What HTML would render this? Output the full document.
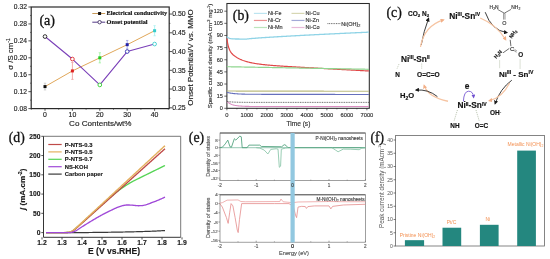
<!DOCTYPE html>
<html><head><meta charset="utf-8"><style>
html,body{margin:0;padding:0;background:#fff;}
body{width:550px;height:259px;overflow:hidden;font-family:"Liberation Sans",sans-serif;}
svg{display:block;filter:blur(0.3px);}
</style></head><body>
<svg width="550" height="259" viewBox="0 0 550 259">
<rect x="31.20" y="7.00" width="138.00" height="101.60" fill="none" stroke="#2a2a2a" stroke-width="1.2" />
<line x1="28.40" y1="108.60" x2="31.20" y2="108.60" stroke="#2a2a2a" stroke-width="0.8" />
<text x="26.90" y="111.00" font-size="6.7" font-family="'Liberation Sans', sans-serif" text-anchor="end" fill="#222" font-weight="normal"  stroke="#222" stroke-width="0.15">0.08</text>
<line x1="30.00" y1="100.13" x2="31.20" y2="100.13" stroke="#2a2a2a" stroke-width="0.6" />
<line x1="28.40" y1="91.67" x2="31.20" y2="91.67" stroke="#2a2a2a" stroke-width="0.8" />
<text x="26.90" y="94.07" font-size="6.7" font-family="'Liberation Sans', sans-serif" text-anchor="end" fill="#222" font-weight="normal"  stroke="#222" stroke-width="0.15">0.12</text>
<line x1="30.00" y1="83.20" x2="31.20" y2="83.20" stroke="#2a2a2a" stroke-width="0.6" />
<line x1="28.40" y1="74.73" x2="31.20" y2="74.73" stroke="#2a2a2a" stroke-width="0.8" />
<text x="26.90" y="77.13" font-size="6.7" font-family="'Liberation Sans', sans-serif" text-anchor="end" fill="#222" font-weight="normal"  stroke="#222" stroke-width="0.15">0.16</text>
<line x1="30.00" y1="66.27" x2="31.20" y2="66.27" stroke="#2a2a2a" stroke-width="0.6" />
<line x1="28.40" y1="57.80" x2="31.20" y2="57.80" stroke="#2a2a2a" stroke-width="0.8" />
<text x="26.90" y="60.20" font-size="6.7" font-family="'Liberation Sans', sans-serif" text-anchor="end" fill="#222" font-weight="normal"  stroke="#222" stroke-width="0.15">0.20</text>
<line x1="30.00" y1="49.33" x2="31.20" y2="49.33" stroke="#2a2a2a" stroke-width="0.6" />
<line x1="28.40" y1="40.87" x2="31.20" y2="40.87" stroke="#2a2a2a" stroke-width="0.8" />
<text x="26.90" y="43.27" font-size="6.7" font-family="'Liberation Sans', sans-serif" text-anchor="end" fill="#222" font-weight="normal"  stroke="#222" stroke-width="0.15">0.24</text>
<line x1="30.00" y1="32.40" x2="31.20" y2="32.40" stroke="#2a2a2a" stroke-width="0.6" />
<line x1="28.40" y1="23.93" x2="31.20" y2="23.93" stroke="#2a2a2a" stroke-width="0.8" />
<text x="26.90" y="26.33" font-size="6.7" font-family="'Liberation Sans', sans-serif" text-anchor="end" fill="#222" font-weight="normal"  stroke="#222" stroke-width="0.15">0.28</text>
<line x1="30.00" y1="15.47" x2="31.20" y2="15.47" stroke="#2a2a2a" stroke-width="0.6" />
<line x1="28.40" y1="7.00" x2="31.20" y2="7.00" stroke="#2a2a2a" stroke-width="0.8" />
<text x="26.90" y="9.40" font-size="6.7" font-family="'Liberation Sans', sans-serif" text-anchor="end" fill="#222" font-weight="normal"  stroke="#222" stroke-width="0.15">0.32</text>
<line x1="169.20" y1="107.80" x2="172.00" y2="107.80" stroke="#2a2a2a" stroke-width="0.8" />
<text x="172.20" y="110.20" font-size="6.9" font-family="'Liberation Sans', sans-serif" text-anchor="start" fill="#222" font-weight="normal"  stroke="#222" stroke-width="0.15">0.25</text>
<line x1="169.20" y1="98.42" x2="170.40" y2="98.42" stroke="#2a2a2a" stroke-width="0.6" />
<line x1="169.20" y1="89.05" x2="172.00" y2="89.05" stroke="#2a2a2a" stroke-width="0.8" />
<text x="172.20" y="91.45" font-size="6.9" font-family="'Liberation Sans', sans-serif" text-anchor="start" fill="#222" font-weight="normal"  stroke="#222" stroke-width="0.15">0.30</text>
<line x1="169.20" y1="79.67" x2="170.40" y2="79.67" stroke="#2a2a2a" stroke-width="0.6" />
<line x1="169.20" y1="70.30" x2="172.00" y2="70.30" stroke="#2a2a2a" stroke-width="0.8" />
<text x="172.20" y="72.70" font-size="6.9" font-family="'Liberation Sans', sans-serif" text-anchor="start" fill="#222" font-weight="normal"  stroke="#222" stroke-width="0.15">0.35</text>
<line x1="169.20" y1="60.92" x2="170.40" y2="60.92" stroke="#2a2a2a" stroke-width="0.6" />
<line x1="169.20" y1="51.55" x2="172.00" y2="51.55" stroke="#2a2a2a" stroke-width="0.8" />
<text x="172.20" y="53.95" font-size="6.9" font-family="'Liberation Sans', sans-serif" text-anchor="start" fill="#222" font-weight="normal"  stroke="#222" stroke-width="0.15">0.40</text>
<line x1="169.20" y1="42.17" x2="170.40" y2="42.17" stroke="#2a2a2a" stroke-width="0.6" />
<line x1="169.20" y1="32.80" x2="172.00" y2="32.80" stroke="#2a2a2a" stroke-width="0.8" />
<text x="172.20" y="35.20" font-size="6.9" font-family="'Liberation Sans', sans-serif" text-anchor="start" fill="#222" font-weight="normal"  stroke="#222" stroke-width="0.15">0.45</text>
<line x1="169.20" y1="23.42" x2="170.40" y2="23.42" stroke="#2a2a2a" stroke-width="0.6" />
<line x1="169.20" y1="14.05" x2="172.00" y2="14.05" stroke="#2a2a2a" stroke-width="0.8" />
<text x="172.20" y="16.45" font-size="6.9" font-family="'Liberation Sans', sans-serif" text-anchor="start" fill="#222" font-weight="normal"  stroke="#222" stroke-width="0.15">0.50</text>
<line x1="45.00" y1="108.60" x2="45.00" y2="110.80" stroke="#2a2a2a" stroke-width="0.8" />
<text x="45.00" y="117.00" font-size="6.9" font-family="'Liberation Sans', sans-serif" text-anchor="middle" fill="#222" font-weight="normal"  stroke="#222" stroke-width="0.15">0</text>
<line x1="72.40" y1="108.60" x2="72.40" y2="110.80" stroke="#2a2a2a" stroke-width="0.8" />
<text x="72.40" y="117.00" font-size="6.9" font-family="'Liberation Sans', sans-serif" text-anchor="middle" fill="#222" font-weight="normal"  stroke="#222" stroke-width="0.15">10</text>
<line x1="99.80" y1="108.60" x2="99.80" y2="110.80" stroke="#2a2a2a" stroke-width="0.8" />
<text x="99.80" y="117.00" font-size="6.9" font-family="'Liberation Sans', sans-serif" text-anchor="middle" fill="#222" font-weight="normal"  stroke="#222" stroke-width="0.15">20</text>
<line x1="127.20" y1="108.60" x2="127.20" y2="110.80" stroke="#2a2a2a" stroke-width="0.8" />
<text x="127.20" y="117.00" font-size="6.9" font-family="'Liberation Sans', sans-serif" text-anchor="middle" fill="#222" font-weight="normal"  stroke="#222" stroke-width="0.15">30</text>
<line x1="154.60" y1="108.60" x2="154.60" y2="110.80" stroke="#2a2a2a" stroke-width="0.8" />
<text x="154.60" y="117.00" font-size="6.9" font-family="'Liberation Sans', sans-serif" text-anchor="middle" fill="#222" font-weight="normal"  stroke="#222" stroke-width="0.15">40</text>
<line x1="31.30" y1="108.60" x2="31.30" y2="109.80" stroke="#2a2a2a" stroke-width="0.6" />
<line x1="58.70" y1="108.60" x2="58.70" y2="109.80" stroke="#2a2a2a" stroke-width="0.6" />
<line x1="86.10" y1="108.60" x2="86.10" y2="109.80" stroke="#2a2a2a" stroke-width="0.6" />
<line x1="113.50" y1="108.60" x2="113.50" y2="109.80" stroke="#2a2a2a" stroke-width="0.6" />
<line x1="140.90" y1="108.60" x2="140.90" y2="109.80" stroke="#2a2a2a" stroke-width="0.6" />
<line x1="168.30" y1="108.60" x2="168.30" y2="109.80" stroke="#2a2a2a" stroke-width="0.6" />
<text x="100.30" y="125.70" font-size="8.1" font-family="'Liberation Sans', sans-serif" text-anchor="middle" fill="#222" font-weight="normal"  stroke="#222" stroke-width="0.15">Co Contents/wt%</text>
<text x="13.20" y="54.00" font-size="7.8" font-family="'Liberation Sans', sans-serif" text-anchor="middle" fill="#222" font-weight="normal" transform="rotate(-90 13.2 54)"  stroke="#222" stroke-width="0.15">σ /S cm<tspan font-size="5" dy="-3">-1</tspan></text>
<text x="193.40" y="57.50" font-size="8.0" font-family="'Liberation Sans', sans-serif" text-anchor="middle" fill="#222" font-weight="normal" transform="rotate(-90 193.4 57.5)"  stroke="#222" stroke-width="0.15">Onset Potential/V vs. MMO</text>
<text x="39.40" y="24.50" font-size="14.1" font-family="'Liberation Serif', serif" text-anchor="start" fill="#111" font-weight="normal" stroke="#111" stroke-width="0.3">(a)</text>
<polyline points="45.00,86.59 72.40,70.92 99.80,57.80 127.20,44.68 154.60,30.71" fill="none" stroke="#e0a75a" stroke-width="1.0" stroke-linejoin="round" />
<polyline points="45.00,36.55 72.40,59.05 99.80,84.92 127.20,51.55 154.60,44.05" fill="none" stroke="#7a3fb8" stroke-width="1.1" stroke-linejoin="round" />
<line x1="45.00" y1="83.20" x2="45.00" y2="89.97" stroke="#bbb" stroke-width="0.7" />
<line x1="43.80" y1="83.20" x2="46.20" y2="83.20" stroke="#bbb" stroke-width="0.6" />
<line x1="43.80" y1="89.97" x2="46.20" y2="89.97" stroke="#bbb" stroke-width="0.6" />
<rect x="43.50" y="85.09" width="3.00" height="3.00" fill="#111" stroke="none" stroke-width="0.8" />
<line x1="72.40" y1="62.46" x2="72.40" y2="79.39" stroke="#e88" stroke-width="0.7" />
<line x1="71.20" y1="62.46" x2="73.60" y2="62.46" stroke="#e88" stroke-width="0.6" />
<line x1="71.20" y1="79.39" x2="73.60" y2="79.39" stroke="#e88" stroke-width="0.6" />
<rect x="70.90" y="69.42" width="3.00" height="3.00" fill="#d22" stroke="none" stroke-width="0.8" />
<line x1="99.80" y1="52.72" x2="99.80" y2="62.88" stroke="#8e8" stroke-width="0.7" />
<line x1="98.60" y1="52.72" x2="101.00" y2="52.72" stroke="#8e8" stroke-width="0.6" />
<line x1="98.60" y1="62.88" x2="101.00" y2="62.88" stroke="#8e8" stroke-width="0.6" />
<rect x="98.30" y="56.30" width="3.00" height="3.00" fill="#2c2" stroke="none" stroke-width="0.8" />
<line x1="127.20" y1="40.44" x2="127.20" y2="48.91" stroke="#88d" stroke-width="0.7" />
<line x1="126.00" y1="40.44" x2="128.40" y2="40.44" stroke="#88d" stroke-width="0.6" />
<line x1="126.00" y1="48.91" x2="128.40" y2="48.91" stroke="#88d" stroke-width="0.6" />
<rect x="125.70" y="43.18" width="3.00" height="3.00" fill="#22a" stroke="none" stroke-width="0.8" />
<line x1="154.60" y1="25.63" x2="154.60" y2="35.79" stroke="#9ee" stroke-width="0.7" />
<line x1="153.40" y1="25.63" x2="155.80" y2="25.63" stroke="#9ee" stroke-width="0.6" />
<line x1="153.40" y1="35.79" x2="155.80" y2="35.79" stroke="#9ee" stroke-width="0.6" />
<rect x="153.10" y="29.21" width="3.00" height="3.00" fill="#3cc" stroke="none" stroke-width="0.8" />
<circle cx="45.00" cy="36.55" r="1.85" fill="#fff" stroke="#111" stroke-width="0.85"/>
<circle cx="72.40" cy="59.05" r="1.85" fill="#fff" stroke="#d22" stroke-width="0.85"/>
<circle cx="99.80" cy="84.92" r="1.85" fill="#fff" stroke="#2c2" stroke-width="0.85"/>
<circle cx="127.20" cy="51.55" r="1.85" fill="#fff" stroke="#22a" stroke-width="0.85"/>
<circle cx="154.60" cy="44.05" r="1.85" fill="#fff" stroke="#3cc" stroke-width="0.85"/>
<line x1="92.30" y1="13.50" x2="105.20" y2="13.50" stroke="#c89a5a" stroke-width="1.0" />
<rect x="98.10" y="12.00" width="3.00" height="3.00" fill="#111" stroke="none" stroke-width="0.8" />
<text x="106.50" y="15.30" font-size="6.3" font-family="'Liberation Serif', serif" text-anchor="start" fill="#111" font-weight="bold"  stroke="#111" stroke-width="0.15">Electrical conductivity</text>
<line x1="92.30" y1="22.20" x2="105.20" y2="22.20" stroke="#553a88" stroke-width="1.0" />
<circle cx="99.60" cy="22.20" r="1.7" fill="#fff" stroke="#443366" stroke-width="0.9"/>
<text x="106.50" y="23.80" font-size="6.3" font-family="'Liberation Serif', serif" text-anchor="start" fill="#111" font-weight="bold"  stroke="#111" stroke-width="0.15">Onset potential</text>
<rect x="226.90" y="3.50" width="142.40" height="104.80" fill="none" stroke="#2a2a2a" stroke-width="1.05" />
<line x1="224.30" y1="108.30" x2="226.90" y2="108.30" stroke="#2a2a2a" stroke-width="0.7" />
<text x="222.90" y="110.30" font-size="5.5" font-family="'Liberation Sans', sans-serif" text-anchor="end" fill="#333" font-weight="normal"  stroke="#333" stroke-width="0.15">0</text>
<line x1="224.30" y1="96.16" x2="226.90" y2="96.16" stroke="#2a2a2a" stroke-width="0.7" />
<text x="222.90" y="98.16" font-size="5.5" font-family="'Liberation Sans', sans-serif" text-anchor="end" fill="#333" font-weight="normal"  stroke="#333" stroke-width="0.15">15</text>
<line x1="224.30" y1="84.03" x2="226.90" y2="84.03" stroke="#2a2a2a" stroke-width="0.7" />
<text x="222.90" y="86.03" font-size="5.5" font-family="'Liberation Sans', sans-serif" text-anchor="end" fill="#333" font-weight="normal"  stroke="#333" stroke-width="0.15">30</text>
<line x1="224.30" y1="71.89" x2="226.90" y2="71.89" stroke="#2a2a2a" stroke-width="0.7" />
<text x="222.90" y="73.89" font-size="5.5" font-family="'Liberation Sans', sans-serif" text-anchor="end" fill="#333" font-weight="normal"  stroke="#333" stroke-width="0.15">45</text>
<line x1="224.30" y1="59.75" x2="226.90" y2="59.75" stroke="#2a2a2a" stroke-width="0.7" />
<text x="222.90" y="61.75" font-size="5.5" font-family="'Liberation Sans', sans-serif" text-anchor="end" fill="#333" font-weight="normal"  stroke="#333" stroke-width="0.15">60</text>
<line x1="224.30" y1="47.61" x2="226.90" y2="47.61" stroke="#2a2a2a" stroke-width="0.7" />
<text x="222.90" y="49.61" font-size="5.5" font-family="'Liberation Sans', sans-serif" text-anchor="end" fill="#333" font-weight="normal"  stroke="#333" stroke-width="0.15">75</text>
<line x1="224.30" y1="35.47" x2="226.90" y2="35.47" stroke="#2a2a2a" stroke-width="0.7" />
<text x="222.90" y="37.47" font-size="5.5" font-family="'Liberation Sans', sans-serif" text-anchor="end" fill="#333" font-weight="normal"  stroke="#333" stroke-width="0.15">90</text>
<line x1="224.30" y1="23.34" x2="226.90" y2="23.34" stroke="#2a2a2a" stroke-width="0.7" />
<text x="222.90" y="25.34" font-size="5.5" font-family="'Liberation Sans', sans-serif" text-anchor="end" fill="#333" font-weight="normal"  stroke="#333" stroke-width="0.15">105</text>
<line x1="224.30" y1="11.20" x2="226.90" y2="11.20" stroke="#2a2a2a" stroke-width="0.7" />
<text x="222.90" y="13.20" font-size="5.5" font-family="'Liberation Sans', sans-serif" text-anchor="end" fill="#333" font-weight="normal"  stroke="#333" stroke-width="0.15">120</text>
<line x1="226.90" y1="108.30" x2="226.90" y2="110.30" stroke="#2a2a2a" stroke-width="0.7" />
<text x="226.90" y="116.60" font-size="5.8" font-family="'Liberation Sans', sans-serif" text-anchor="middle" fill="#333" font-weight="normal"  stroke="#333" stroke-width="0.15">0</text>
<line x1="246.90" y1="108.30" x2="246.90" y2="110.30" stroke="#2a2a2a" stroke-width="0.7" />
<text x="246.90" y="116.60" font-size="5.8" font-family="'Liberation Sans', sans-serif" text-anchor="middle" fill="#333" font-weight="normal"  stroke="#333" stroke-width="0.15">1000</text>
<line x1="266.90" y1="108.30" x2="266.90" y2="110.30" stroke="#2a2a2a" stroke-width="0.7" />
<text x="266.90" y="116.60" font-size="5.8" font-family="'Liberation Sans', sans-serif" text-anchor="middle" fill="#333" font-weight="normal"  stroke="#333" stroke-width="0.15">2000</text>
<line x1="286.90" y1="108.30" x2="286.90" y2="110.30" stroke="#2a2a2a" stroke-width="0.7" />
<text x="286.90" y="116.60" font-size="5.8" font-family="'Liberation Sans', sans-serif" text-anchor="middle" fill="#333" font-weight="normal"  stroke="#333" stroke-width="0.15">3000</text>
<line x1="306.90" y1="108.30" x2="306.90" y2="110.30" stroke="#2a2a2a" stroke-width="0.7" />
<text x="306.90" y="116.60" font-size="5.8" font-family="'Liberation Sans', sans-serif" text-anchor="middle" fill="#333" font-weight="normal"  stroke="#333" stroke-width="0.15">4000</text>
<line x1="326.90" y1="108.30" x2="326.90" y2="110.30" stroke="#2a2a2a" stroke-width="0.7" />
<text x="326.90" y="116.60" font-size="5.8" font-family="'Liberation Sans', sans-serif" text-anchor="middle" fill="#333" font-weight="normal"  stroke="#333" stroke-width="0.15">5000</text>
<line x1="346.90" y1="108.30" x2="346.90" y2="110.30" stroke="#2a2a2a" stroke-width="0.7" />
<text x="346.90" y="116.60" font-size="5.8" font-family="'Liberation Sans', sans-serif" text-anchor="middle" fill="#333" font-weight="normal"  stroke="#333" stroke-width="0.15">6000</text>
<line x1="366.90" y1="108.30" x2="366.90" y2="110.30" stroke="#2a2a2a" stroke-width="0.7" />
<text x="366.90" y="116.60" font-size="5.8" font-family="'Liberation Sans', sans-serif" text-anchor="middle" fill="#333" font-weight="normal"  stroke="#333" stroke-width="0.15">7000</text>
<line x1="236.90" y1="108.30" x2="236.90" y2="109.40" stroke="#2a2a2a" stroke-width="0.6" />
<line x1="256.90" y1="108.30" x2="256.90" y2="109.40" stroke="#2a2a2a" stroke-width="0.6" />
<line x1="276.90" y1="108.30" x2="276.90" y2="109.40" stroke="#2a2a2a" stroke-width="0.6" />
<line x1="296.90" y1="108.30" x2="296.90" y2="109.40" stroke="#2a2a2a" stroke-width="0.6" />
<line x1="316.90" y1="108.30" x2="316.90" y2="109.40" stroke="#2a2a2a" stroke-width="0.6" />
<line x1="336.90" y1="108.30" x2="336.90" y2="109.40" stroke="#2a2a2a" stroke-width="0.6" />
<line x1="356.90" y1="108.30" x2="356.90" y2="109.40" stroke="#2a2a2a" stroke-width="0.6" />
<text x="298.40" y="126.40" font-size="6.6" font-family="'Liberation Sans', sans-serif" text-anchor="middle" fill="#333" font-weight="normal"  stroke="#333" stroke-width="0.15">Time (s)</text>
<text x="212.00" y="56.00" font-size="6.1" font-family="'Liberation Sans', sans-serif" text-anchor="middle" fill="#333" font-weight="normal" transform="rotate(-90 212 56)"  stroke="#333" stroke-width="0.15">Specific current density (mA cm<tspan font-size="4" dy="-2.5">-2</tspan><tspan dy="2.5"> mg</tspan><tspan font-size="4" dy="-2.5">-1</tspan><tspan dy="2.5">)</tspan></text>
<text x="232.80" y="20.30" font-size="13.8" font-family="'Liberation Serif', serif" text-anchor="start" fill="#111" font-weight="normal" stroke="#111" stroke-width="0.3">(b)</text>
<polyline points="226.90,36.53 227.61,37.22 228.32,37.72 229.03,38.08 229.74,38.35 230.45,38.54 231.16,38.67 231.87,38.77 232.58,38.85 233.29,38.90 234.00,38.94 234.71,38.96 235.42,38.98 236.13,39.00 236.84,39.01 237.55,39.02 238.26,39.02 238.97,39.02 239.68,39.03 240.39,39.03 241.10,39.03 241.81,39.03 242.52,39.03 243.23,39.03 243.94,39.03 244.65,39.03 245.36,39.03 246.07,39.03 246.78,39.04 247.49,38.94 248.20,38.85 248.91,38.78 249.62,38.71 250.33,38.64 251.04,38.58 251.75,38.51 252.46,38.45 253.17,38.40 253.88,38.34 254.59,38.28 255.30,38.23 256.01,38.17 256.72,38.12 257.43,38.07 258.14,38.01 258.85,37.96 259.56,37.91 260.27,37.86 260.98,37.81 261.69,37.76 262.40,37.72 263.11,37.67 263.82,37.62 264.53,37.57 265.24,37.52 265.95,37.48 266.66,37.43 267.37,37.39 268.08,37.34 268.79,37.30 269.50,37.25 270.21,37.21 270.92,37.16 271.63,37.12 272.34,37.07 273.05,37.03 273.76,36.99 274.47,36.94 275.18,36.90 275.89,36.86 276.60,36.81 277.31,36.77 278.02,36.73 278.73,36.69 279.44,36.65 280.15,36.60 280.86,36.56 281.57,36.52 282.28,36.48 282.99,36.44 283.70,36.40 284.41,36.36 285.12,36.32 285.83,36.28 286.54,36.24 287.25,36.20 287.96,36.16 288.67,36.12 289.38,36.08 290.09,36.04 290.80,36.00 291.51,35.96 292.22,35.92 292.93,35.88 293.64,35.84 294.35,35.80 295.06,35.77 295.77,35.73 296.48,35.69 297.19,35.65 297.90,35.61 298.61,35.57 299.32,35.54 300.03,35.50 300.74,35.46 301.45,35.42 302.16,35.39 302.87,35.35 303.58,35.31 304.29,35.27 305.00,35.24 305.71,35.20 306.42,35.16 307.13,35.12 307.84,35.09 308.55,35.05 309.26,35.01 309.97,34.98 310.68,34.94 311.39,34.91 312.10,34.87 312.81,34.83 313.52,34.80 314.23,34.76 314.94,34.72 315.65,34.69 316.36,34.65 317.07,34.62 317.78,34.58 318.49,34.55 319.20,34.51 319.91,34.47 320.62,34.44 321.33,34.40 322.04,34.37 322.75,34.33 323.46,34.30 324.17,34.26 324.88,34.23 325.59,34.19 326.30,34.16 327.01,34.12 327.72,34.09 328.43,34.05 329.14,34.02 329.85,33.98 330.56,33.95 331.27,33.91 331.98,33.88 332.69,33.85 333.40,33.81 334.11,33.78 334.82,33.74 335.53,33.71 336.24,33.67 336.95,33.64 337.66,33.61 338.37,33.57 339.08,33.54 339.79,33.51 340.50,33.47 341.21,33.44 341.92,33.40 342.63,33.37 343.34,33.34 344.05,33.30 344.76,33.27 345.47,33.24 346.18,33.20 346.89,33.17 347.60,33.14 348.31,33.10 349.02,33.07 349.73,33.04 350.44,33.00 351.15,32.97 351.86,32.94 352.57,32.90 353.28,32.87 353.99,32.84 354.70,32.81 355.41,32.77 356.12,32.74 356.83,32.71 357.54,32.67 358.25,32.64 358.96,32.61 359.67,32.58 360.38,32.54 361.09,32.51 361.80,32.48 362.51,32.45 363.22,32.41 363.93,32.38 364.64,32.35 365.35,32.32 366.06,32.29 366.77,32.25 367.48,32.22 368.19,32.19 368.90,32.16" fill="none" stroke="#8fd3e6" stroke-width="1.3" stroke-linejoin="round" />
<polyline points="226.90,38.47 227.61,43.06 228.32,46.27 229.03,48.56 229.74,50.27 230.45,51.59 231.16,52.64 231.87,53.53 232.58,54.28 233.29,54.95 234.00,55.55 234.71,56.09 235.42,56.60 236.13,57.07 236.84,57.51 237.55,57.92 238.26,58.31 238.97,58.67 239.68,59.02 240.39,59.35 241.10,59.66 241.81,59.96 242.52,60.23 243.23,60.50 243.94,60.75 244.65,60.99 245.36,61.22 246.07,61.44 246.78,61.64 247.49,61.84 248.20,62.03 248.91,62.21 249.62,62.38 250.33,62.54 251.04,62.69 251.75,62.84 252.46,62.98 253.17,63.12 253.88,63.25 254.59,63.38 255.30,63.50 256.01,63.61 256.72,63.72 257.43,63.83 258.14,63.93 258.85,64.03 259.56,64.13 260.27,64.22 260.98,64.31 261.69,64.39 262.40,64.48 263.11,64.56 263.82,64.63 264.53,64.71 265.24,64.78 265.95,64.86 266.66,64.92 267.37,64.99 268.08,65.06 268.79,65.12 269.50,65.19 270.21,65.25 270.92,65.31 271.63,65.37 272.34,65.42 273.05,65.48 273.76,65.54 274.47,65.59 275.18,65.65 275.89,65.70 276.60,65.75 277.31,65.80 278.02,65.85 278.73,65.90 279.44,65.95 280.15,66.00 280.86,66.05 281.57,66.10 282.28,66.14 282.99,66.19 283.70,66.23 284.41,66.28 285.12,66.33 285.83,66.37 286.54,66.41 287.25,66.46 287.96,66.50 288.67,66.55 289.38,66.59 290.09,66.63 290.80,66.67 291.51,66.72 292.22,66.76 292.93,66.80 293.64,66.84 294.35,66.88 295.06,66.93 295.77,66.97 296.48,67.01 297.19,67.05 297.90,67.09 298.61,67.13 299.32,67.17 300.03,67.21 300.74,67.25 301.45,67.29 302.16,67.33 302.87,67.37 303.58,67.41 304.29,67.45 305.00,67.49 305.71,67.53 306.42,67.57 307.13,67.61 307.84,67.65 308.55,67.69 309.26,67.73 309.97,67.77 310.68,67.81 311.39,67.85 312.10,67.89 312.81,67.93 313.52,67.97 314.23,68.01 314.94,68.05 315.65,68.09 316.36,68.13 317.07,68.16 317.78,68.20 318.49,68.24 319.20,68.28 319.91,68.32 320.62,68.36 321.33,68.40 322.04,68.44 322.75,68.48 323.46,68.52 324.17,68.55 324.88,68.59 325.59,68.63 326.30,68.67 327.01,68.71 327.72,68.75 328.43,68.79 329.14,68.83 329.85,68.87 330.56,68.90 331.27,68.94 331.98,68.98 332.69,69.02 333.40,69.06 334.11,69.10 334.82,69.14 335.53,69.18 336.24,69.22 336.95,69.25 337.66,69.29 338.37,69.33 339.08,69.37 339.79,69.41 340.50,69.45 341.21,69.49 341.92,69.53 342.63,69.56 343.34,69.60 344.05,69.64 344.76,69.68 345.47,69.72 346.18,69.76 346.89,69.80 347.60,69.84 348.31,69.87 349.02,69.91 349.73,69.95 350.44,69.99 351.15,70.03 351.86,70.07 352.57,70.11 353.28,70.15 353.99,70.18 354.70,70.22 355.41,70.26 356.12,70.30 356.83,70.34 357.54,70.38 358.25,70.42 358.96,70.46 359.67,70.49 360.38,70.53 361.09,70.57 361.80,70.61 362.51,70.65 363.22,70.69 363.93,70.73 364.64,70.77 365.35,70.80 366.06,70.84 366.77,70.88 367.48,70.92 368.19,70.96 368.90,71.00" fill="none" stroke="#e04848" stroke-width="1.2" stroke-linejoin="round" />
<polyline points="226.90,66.71 227.61,66.72 228.32,66.73 229.03,66.75 229.74,66.76 230.45,66.77 231.16,66.79 231.87,66.80 232.58,66.81 233.29,66.83 234.00,66.84 234.71,66.85 235.42,66.86 236.13,66.88 236.84,66.89 237.55,66.90 238.26,66.92 238.97,66.93 239.68,66.94 240.39,66.95 241.10,66.97 241.81,66.98 242.52,66.99 243.23,67.01 243.94,67.02 244.65,67.03 245.36,67.05 246.07,67.06 246.78,67.07 247.49,67.08 248.20,67.10 248.91,67.11 249.62,67.12 250.33,67.14 251.04,67.15 251.75,67.16 252.46,67.17 253.17,67.19 253.88,67.20 254.59,67.21 255.30,67.23 256.01,67.24 256.72,67.25 257.43,67.27 258.14,67.28 258.85,67.29 259.56,67.30 260.27,67.32 260.98,67.33 261.69,67.34 262.40,67.36 263.11,67.37 263.82,67.38 264.53,67.40 265.24,67.41 265.95,67.42 266.66,67.43 267.37,67.45 268.08,67.46 268.79,67.47 269.50,67.49 270.21,67.50 270.92,67.51 271.63,67.52 272.34,67.54 273.05,67.55 273.76,67.56 274.47,67.58 275.18,67.59 275.89,67.60 276.60,67.62 277.31,67.63 278.02,67.64 278.73,67.65 279.44,67.67 280.15,67.68 280.86,67.69 281.57,67.71 282.28,67.72 282.99,67.73 283.70,67.74 284.41,67.76 285.12,67.77 285.83,67.78 286.54,67.80 287.25,67.81 287.96,67.82 288.67,67.84 289.38,67.85 290.09,67.86 290.80,67.87 291.51,67.89 292.22,67.90 292.93,67.91 293.64,67.93 294.35,67.94 295.06,67.95 295.77,67.96 296.48,67.98 297.19,67.99 297.90,68.00 298.61,68.02 299.32,68.03 300.03,68.04 300.74,68.06 301.45,68.07 302.16,68.08 302.87,68.09 303.58,68.11 304.29,68.12 305.00,68.13 305.71,68.15 306.42,68.16 307.13,68.17 307.84,68.18 308.55,68.20 309.26,68.21 309.97,68.22 310.68,68.24 311.39,68.25 312.10,68.26 312.81,68.28 313.52,68.29 314.23,68.30 314.94,68.31 315.65,68.33 316.36,68.34 317.07,68.35 317.78,68.37 318.49,68.38 319.20,68.39 319.91,68.40 320.62,68.42 321.33,68.43 322.04,68.44 322.75,68.46 323.46,68.47 324.17,68.48 324.88,68.50 325.59,68.51 326.30,68.52 327.01,68.53 327.72,68.55 328.43,68.56 329.14,68.57 329.85,68.59 330.56,68.60 331.27,68.61 331.98,68.62 332.69,68.64 333.40,68.65 334.11,68.66 334.82,68.68 335.53,68.69 336.24,68.70 336.95,68.72 337.66,68.73 338.37,68.74 339.08,68.75 339.79,68.77 340.50,68.78 341.21,68.79 341.92,68.81 342.63,68.82 343.34,68.83 344.05,68.85 344.76,68.86 345.47,68.87 346.18,68.88 346.89,68.90 347.60,68.91 348.31,68.92 349.02,68.94 349.73,68.95 350.44,68.96 351.15,68.97 351.86,68.99 352.57,69.00 353.28,69.01 353.99,69.03 354.70,69.04 355.41,69.05 356.12,69.07 356.83,69.08 357.54,69.09 358.25,69.10 358.96,69.12 359.67,69.13 360.38,69.14 361.09,69.16 361.80,69.17 362.51,69.18 363.22,69.19 363.93,69.21 364.64,69.22 365.35,69.23 366.06,69.25 366.77,69.26 367.48,69.27 368.19,69.29 368.90,69.30" fill="none" stroke="#8fd68f" stroke-width="1.2" stroke-linejoin="round" />
<polyline points="226.90,91.06 227.61,91.07 228.32,91.07 229.03,91.07 229.74,91.07 230.45,91.07 231.16,91.07 231.87,91.07 232.58,91.07 233.29,91.07 234.00,91.07 234.71,91.07 235.42,91.07 236.13,91.08 236.84,91.08 237.55,91.08 238.26,91.08 238.97,91.08 239.68,91.08 240.39,91.08 241.10,91.08 241.81,91.08 242.52,91.08 243.23,91.08 243.94,91.08 244.65,91.08 245.36,91.09 246.07,91.09 246.78,91.09 247.49,91.09 248.20,91.09 248.91,91.09 249.62,91.09 250.33,91.09 251.04,91.09 251.75,91.09 252.46,91.09 253.17,91.09 253.88,91.10 254.59,91.10 255.30,91.10 256.01,91.10 256.72,91.10 257.43,91.10 258.14,91.10 258.85,91.10 259.56,91.10 260.27,91.10 260.98,91.10 261.69,91.10 262.40,91.11 263.11,91.11 263.82,91.11 264.53,91.11 265.24,91.11 265.95,91.11 266.66,91.11 267.37,91.11 268.08,91.11 268.79,91.11 269.50,91.11 270.21,91.11 270.92,91.11 271.63,91.12 272.34,91.12 273.05,91.12 273.76,91.12 274.47,91.12 275.18,91.12 275.89,91.12 276.60,91.12 277.31,91.12 278.02,91.12 278.73,91.12 279.44,91.12 280.15,91.13 280.86,91.13 281.57,91.13 282.28,91.13 282.99,91.13 283.70,91.13 284.41,91.13 285.12,91.13 285.83,91.13 286.54,91.13 287.25,91.13 287.96,91.13 288.67,91.14 289.38,91.14 290.09,91.14 290.80,91.14 291.51,91.14 292.22,91.14 292.93,91.14 293.64,91.14 294.35,91.14 295.06,91.14 295.77,91.14 296.48,91.14 297.19,91.14 297.90,91.15 298.61,91.15 299.32,91.15 300.03,91.15 300.74,91.15 301.45,91.15 302.16,91.15 302.87,91.15 303.58,91.15 304.29,91.15 305.00,91.15 305.71,91.15 306.42,91.16 307.13,91.16 307.84,91.16 308.55,91.16 309.26,91.16 309.97,91.16 310.68,91.16 311.39,91.16 312.10,91.16 312.81,91.16 313.52,91.16 314.23,91.16 314.94,91.17 315.65,91.17 316.36,91.17 317.07,91.17 317.78,91.17 318.49,91.17 319.20,91.17 319.91,91.17 320.62,91.17 321.33,91.17 322.04,91.17 322.75,91.17 323.46,91.17 324.17,91.18 324.88,91.18 325.59,91.18 326.30,91.18 327.01,91.18 327.72,91.18 328.43,91.18 329.14,91.18 329.85,91.18 330.56,91.18 331.27,91.18 331.98,91.18 332.69,91.19 333.40,91.19 334.11,91.19 334.82,91.19 335.53,91.19 336.24,91.19 336.95,91.19 337.66,91.19 338.37,91.19 339.08,91.19 339.79,91.19 340.50,91.19 341.21,91.20 341.92,91.20 342.63,91.20 343.34,91.20 344.05,91.20 344.76,91.20 345.47,91.20 346.18,91.20 346.89,91.20 347.60,91.20 348.31,91.20 349.02,91.20 349.73,91.20 350.44,91.21 351.15,91.21 351.86,91.21 352.57,91.21 353.28,91.21 353.99,91.21 354.70,91.21 355.41,91.21 356.12,91.21 356.83,91.21 357.54,91.21 358.25,91.21 358.96,91.22 359.67,91.22 360.38,91.22 361.09,91.22 361.80,91.22 362.51,91.22 363.22,91.22 363.93,91.22 364.64,91.22 365.35,91.22 366.06,91.22 366.77,91.22 367.48,91.22 368.19,91.23 368.90,91.23" fill="none" stroke="#bcbc80" stroke-width="1.1" stroke-linejoin="round" />
<polyline points="226.90,92.28 227.61,92.47 228.32,92.65 229.03,92.81 229.74,92.96 230.45,93.09 231.16,93.21 231.87,93.31 232.58,93.41 233.29,93.50 234.00,93.58 234.71,93.65 235.42,93.71 236.13,93.77 236.84,93.82 237.55,93.87 238.26,93.92 238.97,93.95 239.68,93.99 240.39,94.02 241.10,94.05 241.81,94.08 242.52,94.10 243.23,94.12 243.94,94.14 244.65,94.16 245.36,94.18 246.07,94.19 246.78,94.21 247.49,94.22 248.20,94.23 248.91,94.24 249.62,94.25 250.33,94.26 251.04,94.26 251.75,94.27 252.46,94.28 253.17,94.28 253.88,94.29 254.59,94.29 255.30,94.30 256.01,94.30 256.72,94.31 257.43,94.31 258.14,94.31 258.85,94.32 259.56,94.32 260.27,94.32 260.98,94.32 261.69,94.33 262.40,94.33 263.11,94.33 263.82,94.33 264.53,94.33 265.24,94.34 265.95,94.34 266.66,94.34 267.37,94.34 268.08,94.34 268.79,94.34 269.50,94.35 270.21,94.35 270.92,94.35 271.63,94.35 272.34,94.35 273.05,94.35 273.76,94.35 274.47,94.35 275.18,94.35 275.89,94.36 276.60,94.36 277.31,94.36 278.02,94.36 278.73,94.36 279.44,94.36 280.15,94.36 280.86,94.36 281.57,94.36 282.28,94.36 282.99,94.36 283.70,94.37 284.41,94.37 285.12,94.37 285.83,94.37 286.54,94.37 287.25,94.37 287.96,94.37 288.67,94.37 289.38,94.37 290.09,94.37 290.80,94.37 291.51,94.37 292.22,94.38 292.93,94.38 293.64,94.38 294.35,94.38 295.06,94.38 295.77,94.38 296.48,94.38 297.19,94.38 297.90,94.38 298.61,94.38 299.32,94.38 300.03,94.38 300.74,94.39 301.45,94.39 302.16,94.39 302.87,94.39 303.58,94.39 304.29,94.39 305.00,94.39 305.71,94.39 306.42,94.39 307.13,94.39 307.84,94.39 308.55,94.39 309.26,94.40 309.97,94.40 310.68,94.40 311.39,94.40 312.10,94.40 312.81,94.40 313.52,94.40 314.23,94.40 314.94,94.40 315.65,94.40 316.36,94.40 317.07,94.40 317.78,94.40 318.49,94.41 319.20,94.41 319.91,94.41 320.62,94.41 321.33,94.41 322.04,94.41 322.75,94.41 323.46,94.41 324.17,94.41 324.88,94.41 325.59,94.41 326.30,94.41 327.01,94.42 327.72,94.42 328.43,94.42 329.14,94.42 329.85,94.42 330.56,94.42 331.27,94.42 331.98,94.42 332.69,94.42 333.40,94.42 334.11,94.42 334.82,94.42 335.53,94.43 336.24,94.43 336.95,94.43 337.66,94.43 338.37,94.43 339.08,94.43 339.79,94.43 340.50,94.43 341.21,94.43 341.92,94.43 342.63,94.43 343.34,94.43 344.05,94.43 344.76,94.44 345.47,94.44 346.18,94.44 346.89,94.44 347.60,94.44 348.31,94.44 349.02,94.44 349.73,94.44 350.44,94.44 351.15,94.44 351.86,94.44 352.57,94.44 353.28,94.45 353.99,94.45 354.70,94.45 355.41,94.45 356.12,94.45 356.83,94.45 357.54,94.45 358.25,94.45 358.96,94.45 359.67,94.45 360.38,94.45 361.09,94.45 361.80,94.46 362.51,94.46 363.22,94.46 363.93,94.46 364.64,94.46 365.35,94.46 366.06,94.46 366.77,94.46 367.48,94.46 368.19,94.46 368.90,94.46" fill="none" stroke="#6670bc" stroke-width="1.1" stroke-linejoin="round" />
<polyline points="226.90,101.50 227.61,102.10 228.32,102.63 229.03,103.09 229.74,103.50 230.45,103.86 231.16,104.18 231.87,104.45 232.58,104.70 233.29,104.92 234.00,105.11 234.71,105.28 235.42,105.42 236.13,105.55 236.84,105.67 237.55,105.77 238.26,105.86 238.97,105.94 239.68,106.01 240.39,106.07 241.10,106.12 241.81,106.17 242.52,106.21 243.23,106.25 243.94,106.28 244.65,106.31 245.36,106.33 246.07,106.36 246.78,106.38 247.49,106.39 248.20,106.41 248.91,106.42 249.62,106.43 250.33,106.44 251.04,106.45 251.75,106.46 252.46,106.47 253.17,106.47 253.88,106.48 254.59,106.48 255.30,106.49 256.01,106.49 256.72,106.50 257.43,106.50 258.14,106.50 258.85,106.50 259.56,106.51 260.27,106.51 260.98,106.51 261.69,106.51 262.40,106.51 263.11,106.51 263.82,106.51 264.53,106.51 265.24,106.51 265.95,106.52 266.66,106.52 267.37,106.52 268.08,106.52 268.79,106.52 269.50,106.52 270.21,106.52 270.92,106.52 271.63,106.52 272.34,106.52 273.05,106.52 273.76,106.52 274.47,106.52 275.18,106.52 275.89,106.52 276.60,106.52 277.31,106.52 278.02,106.52 278.73,106.52 279.44,106.52 280.15,106.52 280.86,106.52 281.57,106.52 282.28,106.52 282.99,106.52 283.70,106.52 284.41,106.52 285.12,106.52 285.83,106.52 286.54,106.52 287.25,106.52 287.96,106.52 288.67,106.52 289.38,106.52 290.09,106.52 290.80,106.52 291.51,106.52 292.22,106.52 292.93,106.52 293.64,106.52 294.35,106.52 295.06,106.52 295.77,106.52 296.48,106.52 297.19,106.52 297.90,106.52 298.61,106.52 299.32,106.52 300.03,106.52 300.74,106.52 301.45,106.52 302.16,106.52 302.87,106.52 303.58,106.52 304.29,106.52 305.00,106.52 305.71,106.52 306.42,106.52 307.13,106.52 307.84,106.52 308.55,106.52 309.26,106.52 309.97,106.52 310.68,106.52 311.39,106.52 312.10,106.52 312.81,106.52 313.52,106.52 314.23,106.52 314.94,106.52 315.65,106.52 316.36,106.52 317.07,106.52 317.78,106.52 318.49,106.52 319.20,106.52 319.91,106.52 320.62,106.52 321.33,106.52 322.04,106.52 322.75,106.52 323.46,106.52 324.17,106.52 324.88,106.52 325.59,106.52 326.30,106.52 327.01,106.52 327.72,106.52 328.43,106.52 329.14,106.52 329.85,106.52 330.56,106.52 331.27,106.52 331.98,106.52 332.69,106.52 333.40,106.52 334.11,106.52 334.82,106.52 335.53,106.52 336.24,106.52 336.95,106.52 337.66,106.52 338.37,106.52 339.08,106.52 339.79,106.52 340.50,106.52 341.21,106.52 341.92,106.52 342.63,106.52 343.34,106.52 344.05,106.52 344.76,106.52 345.47,106.52 346.18,106.52 346.89,106.52 347.60,106.52 348.31,106.52 349.02,106.52 349.73,106.52 350.44,106.52 351.15,106.52 351.86,106.52 352.57,106.52 353.28,106.52 353.99,106.52 354.70,106.52 355.41,106.52 356.12,106.52 356.83,106.52 357.54,106.52 358.25,106.52 358.96,106.52 359.67,106.52 360.38,106.52 361.09,106.52 361.80,106.52 362.51,106.52 363.22,106.52 363.93,106.52 364.64,106.52 365.35,106.52 366.06,106.52 366.77,106.52 367.48,106.52 368.19,106.52 368.90,106.52" fill="none" stroke="#da8cc0" stroke-width="1.1" stroke-linejoin="round" />
<polyline points="226.90,101.42 227.61,101.53 228.32,101.63 229.03,101.71 229.74,101.79 230.45,101.86 231.16,101.92 231.87,101.97 232.58,102.02 233.29,102.06 234.00,102.10 234.71,102.13 235.42,102.16 236.13,102.18 236.84,102.21 237.55,102.23 238.26,102.25 238.97,102.26 239.68,102.28 240.39,102.29 241.10,102.30 241.81,102.31 242.52,102.32 243.23,102.33 243.94,102.34 244.65,102.34 245.36,102.35 246.07,102.35 246.78,102.36 247.49,102.36 248.20,102.37 248.91,102.37 249.62,102.37 250.33,102.37 251.04,102.38 251.75,102.38 252.46,102.38 253.17,102.38 253.88,102.38 254.59,102.38 255.30,102.38 256.01,102.39 256.72,102.39 257.43,102.39 258.14,102.39 258.85,102.39 259.56,102.39 260.27,102.39 260.98,102.39 261.69,102.39 262.40,102.39 263.11,102.39 263.82,102.39 264.53,102.39 265.24,102.39 265.95,102.39 266.66,102.39 267.37,102.39 268.08,102.39 268.79,102.39 269.50,102.39 270.21,102.39 270.92,102.39 271.63,102.39 272.34,102.39 273.05,102.39 273.76,102.39 274.47,102.39 275.18,102.39 275.89,102.39 276.60,102.39 277.31,102.39 278.02,102.39 278.73,102.39 279.44,102.39 280.15,102.39 280.86,102.39 281.57,102.39 282.28,102.39 282.99,102.39 283.70,102.39 284.41,102.39 285.12,102.39 285.83,102.39 286.54,102.39 287.25,102.39 287.96,102.39 288.67,102.39 289.38,102.39 290.09,102.39 290.80,102.39 291.51,102.39 292.22,102.39 292.93,102.39 293.64,102.39 294.35,102.39 295.06,102.39 295.77,102.39 296.48,102.39 297.19,102.39 297.90,102.39 298.61,102.39 299.32,102.39 300.03,102.39 300.74,102.39 301.45,102.39 302.16,102.39 302.87,102.39 303.58,102.39 304.29,102.39 305.00,102.39 305.71,102.39 306.42,102.39 307.13,102.39 307.84,102.39 308.55,102.39 309.26,102.39 309.97,102.39 310.68,102.39 311.39,102.39 312.10,102.39 312.81,102.39 313.52,102.39 314.23,102.39 314.94,102.39 315.65,102.39 316.36,102.39 317.07,102.39 317.78,102.39 318.49,102.39 319.20,102.39 319.91,102.39 320.62,102.39 321.33,102.39 322.04,102.39 322.75,102.39 323.46,102.39 324.17,102.39 324.88,102.39 325.59,102.39 326.30,102.39 327.01,102.39 327.72,102.39 328.43,102.39 329.14,102.39 329.85,102.39 330.56,102.39 331.27,102.39 331.98,102.39 332.69,102.39 333.40,102.39 334.11,102.39 334.82,102.39 335.53,102.39 336.24,102.39 336.95,102.39 337.66,102.39 338.37,102.39 339.08,102.39 339.79,102.39 340.50,102.39 341.21,102.39 341.92,102.39 342.63,102.39 343.34,102.39 344.05,102.39 344.76,102.39 345.47,102.39 346.18,102.39 346.89,102.39 347.60,102.39 348.31,102.39 349.02,102.39 349.73,102.39 350.44,102.39 351.15,102.39 351.86,102.39 352.57,102.39 353.28,102.39 353.99,102.39 354.70,102.39 355.41,102.39 356.12,102.39 356.83,102.39 357.54,102.39 358.25,102.39 358.96,102.39 359.67,102.39 360.38,102.39 361.09,102.39 361.80,102.39 362.51,102.39 363.22,102.39 363.93,102.39 364.64,102.39 365.35,102.39 366.06,102.39 366.77,102.39 367.48,102.39 368.19,102.39 368.90,102.39" fill="none" stroke="#333" stroke-width="0.85" stroke-linejoin="round" stroke-dasharray="0.9,0.8"/>
<line x1="253.90" y1="13.40" x2="267.00" y2="13.40" stroke="#8fd3e6" stroke-width="1.2" opacity="0.6"/>
<text x="268.00" y="15.30" font-size="5.5" font-family="'Liberation Sans', sans-serif" text-anchor="start" fill="#333" font-weight="normal"  stroke="#333" stroke-width="0.15">Ni-Fe</text>
<line x1="253.90" y1="20.45" x2="267.00" y2="20.45" stroke="#e04848" stroke-width="1.2" opacity="0.6"/>
<text x="268.00" y="22.35" font-size="5.5" font-family="'Liberation Sans', sans-serif" text-anchor="start" fill="#333" font-weight="normal"  stroke="#333" stroke-width="0.15">Ni-Cr</text>
<line x1="253.90" y1="27.50" x2="267.00" y2="27.50" stroke="#8fd68f" stroke-width="1.2" opacity="0.6"/>
<text x="268.00" y="29.40" font-size="5.5" font-family="'Liberation Sans', sans-serif" text-anchor="start" fill="#333" font-weight="normal"  stroke="#333" stroke-width="0.15">Ni-Mn</text>
<line x1="291.50" y1="13.40" x2="304.50" y2="13.40" stroke="#bcbc80" stroke-width="1.2" opacity="0.6"/>
<text x="305.60" y="15.30" font-size="5.5" font-family="'Liberation Sans', sans-serif" text-anchor="start" fill="#333" font-weight="normal"  stroke="#333" stroke-width="0.15">Ni-Cu</text>
<line x1="291.50" y1="20.45" x2="304.50" y2="20.45" stroke="#6670bc" stroke-width="1.2" opacity="0.6"/>
<text x="305.60" y="22.35" font-size="5.5" font-family="'Liberation Sans', sans-serif" text-anchor="start" fill="#333" font-weight="normal"  stroke="#333" stroke-width="0.15">Ni-Zn</text>
<line x1="291.50" y1="27.50" x2="304.50" y2="27.50" stroke="#da8cc0" stroke-width="1.2" opacity="0.6"/>
<text x="305.60" y="29.40" font-size="5.5" font-family="'Liberation Sans', sans-serif" text-anchor="start" fill="#333" font-weight="normal"  stroke="#333" stroke-width="0.15">Ni-Co</text>
<line x1="327.50" y1="23.60" x2="340.60" y2="23.60" stroke="#333" stroke-width="0.8" stroke-dasharray="0.9,0.8"/>
<text x="341.20" y="25.50" font-size="5.5" font-family="'Liberation Sans', sans-serif" text-anchor="start" fill="#333" font-weight="normal"  stroke="#333" stroke-width="0.15">Ni(OH)<tspan font-size="3.8" dy="1.2">2</tspan></text>
<text x="386.50" y="16.60" font-size="13.8" font-family="'Liberation Serif', serif" text-anchor="start" fill="#111" font-weight="normal" stroke="#111" stroke-width="0.3">(c)</text>
<text x="408.00" y="15.60" font-size="6.5" font-family="'Liberation Sans', sans-serif" text-anchor="start" fill="#111" font-weight="bold"  stroke="#111" stroke-width="0.15">CO<tspan font-size="4.4" dy="1.6">2</tspan><tspan dy="-1.6"> N</tspan><tspan font-size="4.4" dy="1.6">2</tspan></text>
<text x="449.30" y="18.60" font-size="8.3" font-family="'Liberation Sans', sans-serif" text-anchor="start" fill="#111" font-weight="bold"  stroke="#111" stroke-width="0.15">Ni<tspan font-size="5.1" dy="-2.7">III</tspan><tspan dy="2.7">-Sn</tspan><tspan font-size="5.1" dy="-2.7">IV</tspan></text>
<text x="401.00" y="61.60" font-size="8.3" font-family="'Liberation Sans', sans-serif" text-anchor="start" fill="#111" font-weight="bold"  stroke="#111" stroke-width="0.15">Ni<tspan font-size="5.1" dy="-2.7">III</tspan><tspan dy="2.7">-Sn</tspan><tspan font-size="5.1" dy="-2.7">II</tspan></text>
<text x="395.20" y="77.30" font-size="6.4" font-family="'Liberation Sans', sans-serif" text-anchor="start" fill="#111" font-weight="bold"  stroke="#111" stroke-width="0.15">N</text>
<text x="417.00" y="76.60" font-size="6.6" font-family="'Liberation Sans', sans-serif" text-anchor="start" fill="#111" font-weight="bold"  stroke="#111" stroke-width="0.15">O=C=O</text>
<text x="400.00" y="98.00" font-size="7.6" font-family="'Liberation Sans', sans-serif" text-anchor="start" fill="#111" font-weight="bold"  stroke="#111" stroke-width="0.15">H<tspan font-size="5" dy="1.8">2</tspan><tspan dy="-1.8">O</tspan></text>
<text x="498.90" y="76.50" font-size="8.0" font-family="'Liberation Sans', sans-serif" text-anchor="start" fill="#111" font-weight="bold"  stroke="#111" stroke-width="0.15">Ni<tspan font-size="5.1" dy="-2.7">III</tspan><tspan dy="2.7"> - Sn</tspan><tspan font-size="5.1" dy="-2.7">IV</tspan></text>
<text x="457.40" y="108.40" font-size="8.3" font-family="'Liberation Sans', sans-serif" text-anchor="start" fill="#111" font-weight="bold"  stroke="#111" stroke-width="0.15">Ni<tspan font-size="5.1" dy="-2.7">II</tspan><tspan dy="2.7">-Sn</tspan><tspan font-size="5.1" dy="-2.7">IV</tspan></text>
<text x="450.30" y="128.20" font-size="6.4" font-family="'Liberation Sans', sans-serif" text-anchor="start" fill="#111" font-weight="bold"  stroke="#111" stroke-width="0.15">NH</text>
<text x="474.80" y="128.20" font-size="6.4" font-family="'Liberation Sans', sans-serif" text-anchor="start" fill="#111" font-weight="bold"  stroke="#111" stroke-width="0.15">O=C</text>
<text x="490.00" y="115.00" font-size="6.5" font-family="'Liberation Sans', sans-serif" text-anchor="start" fill="#111" font-weight="bold"  stroke="#111" stroke-width="0.15">OH<tspan font-size="4.4" dy="-2.4">-</tspan></text>
<text x="464.80" y="88.60" font-size="8.4" font-family="'Liberation Sans', sans-serif" text-anchor="start" fill="#111" font-weight="bold"  stroke="#111" stroke-width="0.15">e</text>
<text x="489.60" y="9.40" font-size="4.9" font-family="'Liberation Sans', sans-serif" text-anchor="start" fill="#333" font-weight="normal"  stroke="#333" stroke-width="0.15">H<tspan font-size="3.4" dy="1">2</tspan><tspan dy="-1">N</tspan></text>
<text x="511.30" y="9.40" font-size="4.9" font-family="'Liberation Sans', sans-serif" text-anchor="start" fill="#333" font-weight="normal"  stroke="#333" stroke-width="0.15">NH<tspan font-size="3.4" dy="1">2</tspan></text>
<path d="M497.6,9.4 L504.3,13.2 L511,9.4" fill="none" stroke="#1a1a1a" stroke-width="0.6" />
<path d="M503.6,13.2 L503.6,19.6 M505.0,13.2 L505.0,19.6" fill="none" stroke="#333" stroke-width="0.5" />
<text x="502.20" y="24.60" font-size="5.4" font-family="'Liberation Sans', sans-serif" text-anchor="start" fill="#333" font-weight="normal"  stroke="#333" stroke-width="0.15">O</text>
<text x="511.70" y="38.70" font-size="5.2" font-family="'Liberation Sans', sans-serif" text-anchor="start" fill="#222" font-weight="bold" transform="rotate(-55 511.7 38.7)"  stroke="#222" stroke-width="0.15">NH<tspan font-size="3.6" dy="1">2</tspan></text>
<text x="496.30" y="59.10" font-size="5.2" font-family="'Liberation Sans', sans-serif" text-anchor="start" fill="#222" font-weight="bold" transform="rotate(-50 496.3 59.1)"  stroke="#222" stroke-width="0.15">H<tspan font-size="3.6" dy="1">2</tspan><tspan dy="-1">N</tspan></text>
<path d="M510.2,39.8 L510.9,46.2 M503.1,52.8 L509.3,48.4" fill="none" stroke="#1a1a1a" stroke-width="0.65" />
<text x="509.90" y="51.20" font-size="6.0" font-family="'Liberation Sans', sans-serif" text-anchor="start" fill="#222" font-weight="normal"  stroke="#222" stroke-width="0.15">C</text>
<path d="M514.6,49.4 L517.0,51.2 M514.0,50.5 L516.4,52.3" fill="none" stroke="#333" stroke-width="0.5" />
<text x="518.30" y="56.60" font-size="6.4" font-family="'Liberation Sans', sans-serif" text-anchor="start" fill="#222" font-weight="bold"  stroke="#222" stroke-width="0.15">O</text>
<path d="M499.6,60.5 L499.6,68.6 M520.1,59.5 L520.1,68.6" fill="none" stroke="#9aa88a" stroke-width="0.7" stroke-dasharray="1,1"/>
<path d="M399,64 L397,68.8 M421.7,63.6 L421.7,69" fill="none" stroke="#9aa88a" stroke-width="0.6" stroke-dasharray="1,1"/>
<path d="M457.4,110 L453.9,121.5 M476,110 L479.4,121.5" fill="none" stroke="#9aa88a" stroke-width="0.7" stroke-dasharray="1,1"/>
<defs><marker id="ab" viewBox="0 0 6 6" refX="4" refY="3" markerWidth="4.2" markerHeight="4.2" markerUnits="userSpaceOnUse" orient="auto"><path d="M0,0 L6,3 L0,6 z" fill="#1a1a1a"/></marker><marker id="ao" viewBox="0 0 6 6" refX="4" refY="3" markerWidth="4.2" markerHeight="4.2" markerUnits="userSpaceOnUse" orient="auto"><path d="M0,0 L6,3 L0,6 z" fill="#f2b088"/></marker><marker id="ap" viewBox="0 0 6 6" refX="4" refY="3" markerWidth="4" markerHeight="4" markerUnits="userSpaceOnUse" orient="auto"><path d="M0,0 L6,3 L0,6 z" fill="#7050d0"/></marker></defs>
<path d="M421.2,45 Q423.8,31 428.5,18.6" fill="none" stroke="#1a1a1a" stroke-width="0.85" marker-end="url(#ab)"/>
<path d="M420.5,47 Q424,26 443.4,19.9" fill="none" stroke="#f6c4a2" stroke-width="1.2" marker-end="url(#ao)"/>
<path d="M485.2,12.2 Q491.5,30.4 506.8,32.6" fill="none" stroke="#1a1a1a" stroke-width="0.85" marker-end="url(#ab)"/>
<path d="M480.2,18 Q497,25 505.6,39.6" fill="none" stroke="#f6c4a2" stroke-width="1.2" marker-end="url(#ao)"/>
<path d="M511.8,80.2 Q500,89 495.2,103.4" fill="none" stroke="#1a1a1a" stroke-width="0.85" marker-end="url(#ab)"/>
<path d="M509.6,83 Q502,98 489.4,100.6" fill="none" stroke="#f6c4a2" stroke-width="1.2" marker-end="url(#ao)"/>
<path d="M448,101.2 Q428,97 424.2,85.6" fill="none" stroke="#f6c4a2" stroke-width="1.4" marker-end="url(#ao)"/>
<path d="M437.4,96.6 Q428,89 416.2,90.1" fill="none" stroke="#1a1a1a" stroke-width="0.85" marker-end="url(#ab)"/>
<path d="M463.4,101.4 Q463.8,91.5 468.5,91.2 Q473.2,91.2 473.6,97.2" fill="none" stroke="#7050d0" stroke-width="0.85" marker-end="url(#ap)"/>
<line x1="43.50" y1="136.30" x2="180.70" y2="136.30" stroke="#555" stroke-width="0.8" />
<line x1="180.70" y1="136.30" x2="180.70" y2="237.30" stroke="#555" stroke-width="0.8" />
<line x1="43.50" y1="136.30" x2="43.50" y2="237.30" stroke="#2a2a2a" stroke-width="0.95" />
<line x1="43.50" y1="237.30" x2="180.70" y2="237.30" stroke="#2a2a2a" stroke-width="0.95" />
<line x1="41.30" y1="232.60" x2="43.50" y2="232.60" stroke="#2a2a2a" stroke-width="0.8" />
<text x="40.50" y="235.00" font-size="6.7" font-family="'Liberation Sans', sans-serif" text-anchor="end" fill="#1a1a1a" font-weight="bold"  stroke="#1a1a1a" stroke-width="0.15">0</text>
<line x1="41.30" y1="213.34" x2="43.50" y2="213.34" stroke="#2a2a2a" stroke-width="0.8" />
<text x="40.50" y="215.74" font-size="6.7" font-family="'Liberation Sans', sans-serif" text-anchor="end" fill="#1a1a1a" font-weight="bold"  stroke="#1a1a1a" stroke-width="0.15">50</text>
<line x1="41.30" y1="194.08" x2="43.50" y2="194.08" stroke="#2a2a2a" stroke-width="0.8" />
<text x="40.50" y="196.48" font-size="6.7" font-family="'Liberation Sans', sans-serif" text-anchor="end" fill="#1a1a1a" font-weight="bold"  stroke="#1a1a1a" stroke-width="0.15">100</text>
<line x1="41.30" y1="174.82" x2="43.50" y2="174.82" stroke="#2a2a2a" stroke-width="0.8" />
<text x="40.50" y="177.22" font-size="6.7" font-family="'Liberation Sans', sans-serif" text-anchor="end" fill="#1a1a1a" font-weight="bold"  stroke="#1a1a1a" stroke-width="0.15">150</text>
<line x1="41.30" y1="155.56" x2="43.50" y2="155.56" stroke="#2a2a2a" stroke-width="0.8" />
<text x="40.50" y="157.96" font-size="6.7" font-family="'Liberation Sans', sans-serif" text-anchor="end" fill="#1a1a1a" font-weight="bold"  stroke="#1a1a1a" stroke-width="0.15">200</text>
<line x1="41.30" y1="136.30" x2="43.50" y2="136.30" stroke="#2a2a2a" stroke-width="0.8" />
<text x="40.50" y="138.70" font-size="6.7" font-family="'Liberation Sans', sans-serif" text-anchor="end" fill="#1a1a1a" font-weight="bold"  stroke="#1a1a1a" stroke-width="0.15">250</text>
<line x1="42.00" y1="237.30" x2="42.00" y2="239.50" stroke="#2a2a2a" stroke-width="0.8" />
<text x="42.00" y="244.90" font-size="6.8" font-family="'Liberation Sans', sans-serif" text-anchor="middle" fill="#1a1a1a" font-weight="bold"  stroke="#1a1a1a" stroke-width="0.15">1.2</text>
<line x1="62.00" y1="237.30" x2="62.00" y2="239.50" stroke="#2a2a2a" stroke-width="0.8" />
<text x="62.00" y="244.90" font-size="6.8" font-family="'Liberation Sans', sans-serif" text-anchor="middle" fill="#1a1a1a" font-weight="bold"  stroke="#1a1a1a" stroke-width="0.15">1.3</text>
<line x1="82.00" y1="237.30" x2="82.00" y2="239.50" stroke="#2a2a2a" stroke-width="0.8" />
<text x="82.00" y="244.90" font-size="6.8" font-family="'Liberation Sans', sans-serif" text-anchor="middle" fill="#1a1a1a" font-weight="bold"  stroke="#1a1a1a" stroke-width="0.15">1.4</text>
<line x1="102.00" y1="237.30" x2="102.00" y2="239.50" stroke="#2a2a2a" stroke-width="0.8" />
<text x="102.00" y="244.90" font-size="6.8" font-family="'Liberation Sans', sans-serif" text-anchor="middle" fill="#1a1a1a" font-weight="bold"  stroke="#1a1a1a" stroke-width="0.15">1.5</text>
<line x1="122.00" y1="237.30" x2="122.00" y2="239.50" stroke="#2a2a2a" stroke-width="0.8" />
<text x="122.00" y="244.90" font-size="6.8" font-family="'Liberation Sans', sans-serif" text-anchor="middle" fill="#1a1a1a" font-weight="bold"  stroke="#1a1a1a" stroke-width="0.15">1.6</text>
<line x1="142.00" y1="237.30" x2="142.00" y2="239.50" stroke="#2a2a2a" stroke-width="0.8" />
<text x="142.00" y="244.90" font-size="6.8" font-family="'Liberation Sans', sans-serif" text-anchor="middle" fill="#1a1a1a" font-weight="bold"  stroke="#1a1a1a" stroke-width="0.15">1.7</text>
<line x1="162.00" y1="237.30" x2="162.00" y2="239.50" stroke="#2a2a2a" stroke-width="0.8" />
<text x="162.00" y="244.90" font-size="6.8" font-family="'Liberation Sans', sans-serif" text-anchor="middle" fill="#1a1a1a" font-weight="bold"  stroke="#1a1a1a" stroke-width="0.15">1.8</text>
<line x1="182.00" y1="237.30" x2="182.00" y2="239.50" stroke="#2a2a2a" stroke-width="0.8" />
<text x="182.00" y="244.90" font-size="6.8" font-family="'Liberation Sans', sans-serif" text-anchor="middle" fill="#1a1a1a" font-weight="bold"  stroke="#1a1a1a" stroke-width="0.15">1.9</text>
<text x="114.00" y="253.80" font-size="8.6" font-family="'Liberation Sans', sans-serif" text-anchor="middle" fill="#1a1a1a" font-weight="bold"  stroke="#1a1a1a" stroke-width="0.15">E (V vs.RHE)</text>
<text x="25.40" y="189.30" font-size="8.1" font-family="'Liberation Sans', sans-serif" text-anchor="middle" fill="#1a1a1a" font-weight="bold" transform="rotate(-90 25.4 189.3)"  stroke="#1a1a1a" stroke-width="0.15"><tspan font-style="italic">j</tspan> (mA.cm<tspan font-size="5.2" dy="-3">-2</tspan><tspan dy="3">)</tspan></text>
<text x="8.80" y="142.00" font-size="13.7" font-family="'Liberation Serif', serif" text-anchor="start" fill="#111" font-weight="normal" stroke="#111" stroke-width="0.3">(d)</text>
<polyline points="46.00,232.72 46.74,232.72 47.49,232.72 48.23,232.72 48.97,232.72 49.72,232.72 50.46,232.72 51.21,232.72 51.95,232.72 52.69,232.72 53.44,232.72 54.18,232.72 54.92,232.73 55.67,232.73 56.41,232.73 57.16,232.73 57.90,232.73 58.64,232.73 59.39,232.73 60.13,232.73 60.88,232.73 61.62,232.73 62.36,232.73 63.11,232.73 63.85,232.73 64.59,232.73 65.34,232.73 66.08,232.73 66.83,232.73 67.57,232.73 68.31,232.73 69.06,232.73 69.80,232.72 70.54,232.72 71.29,232.72 72.03,232.72 72.78,232.71 73.52,232.71 74.26,232.70 75.01,232.70 75.75,232.69 76.49,232.68 77.24,232.67 77.98,232.67 78.72,232.66 79.47,232.65 80.21,232.64 80.96,232.63 81.70,232.62 82.44,232.61 83.19,232.60 83.93,232.59 84.68,232.58 85.42,232.57 86.16,232.56 86.91,232.55 87.65,232.54 88.39,232.53 89.14,232.52 89.88,232.51 90.62,232.50 91.37,232.49 92.11,232.48 92.86,232.47 93.60,232.46 94.34,232.46 95.09,232.45 95.83,232.44 96.57,232.43 97.32,232.42 98.06,232.41 98.81,232.40 99.55,232.39 100.29,232.38 101.04,232.37 101.78,232.36 102.53,232.35 103.27,232.34 104.01,232.33 104.76,232.32 105.50,232.31 106.24,232.30 106.99,232.29 107.73,232.28 108.48,232.27 109.22,232.26 109.96,232.25 110.71,232.24 111.45,232.22 112.19,232.21 112.94,232.20 113.68,232.19 114.43,232.17 115.17,232.16 115.91,232.15 116.66,232.14 117.40,232.13 118.14,232.11 118.89,232.10 119.63,232.09 120.38,232.07 121.12,232.06 121.86,232.05 122.61,232.03 123.35,232.02 124.09,232.00 124.84,231.99 125.58,231.97 126.32,231.96 127.07,231.94 127.81,231.93 128.56,231.91 129.30,231.89 130.04,231.88 130.79,231.86 131.53,231.84 132.27,231.82 133.02,231.80 133.76,231.78 134.51,231.77 135.25,231.75 135.99,231.73 136.74,231.71 137.48,231.69 138.23,231.67 138.97,231.64 139.71,231.62 140.46,231.60 141.20,231.58 141.94,231.56 142.69,231.53 143.43,231.51 144.18,231.49 144.92,231.46 145.66,231.44 146.41,231.41 147.15,231.39 147.89,231.36 148.64,231.34 149.38,231.31 150.12,231.28 150.87,231.26 151.61,231.23 152.36,231.20 153.10,231.17 153.84,231.14 154.59,231.10 155.33,231.07 156.07,231.03 156.82,230.99 157.56,230.95 158.31,230.92 159.05,230.88 159.79,230.84 160.54,230.80 161.28,230.75 162.02,230.71 162.77,230.67 163.51,230.64 164.26,230.60 165.00,230.56" fill="none" stroke="#3a3a3a" stroke-width="1.2" stroke-linejoin="round" />
<polyline points="46.00,232.60 46.74,232.60 47.49,232.60 48.23,232.60 48.97,232.60 49.72,232.60 50.46,232.60 51.21,232.60 51.95,232.60 52.69,232.60 53.44,232.60 54.18,232.60 54.92,232.60 55.67,232.60 56.41,232.60 57.16,232.60 57.90,232.60 58.64,232.60 59.39,232.60 60.13,232.60 60.88,232.60 61.62,232.60 62.36,232.59 63.11,232.59 63.85,232.59 64.59,232.58 65.34,232.56 66.08,232.54 66.83,232.51 67.57,232.46 68.31,232.38 69.06,232.26 69.80,232.10 70.54,231.86 71.29,231.56 72.03,231.17 72.78,230.71 73.52,230.20 74.26,229.63 75.01,229.03 75.75,228.40 76.49,227.76 77.24,227.10 77.98,226.44 78.72,225.78 79.47,225.11 80.21,224.44 80.96,223.77 81.70,223.09 82.44,222.42 83.19,221.75 83.93,221.07 84.68,220.40 85.42,219.73 86.16,219.06 86.91,218.38 87.65,217.71 88.39,217.04 89.14,216.36 89.88,215.69 90.62,215.02 91.37,214.34 92.11,213.67 92.86,213.00 93.60,212.32 94.34,211.65 95.09,210.98 95.83,210.30 96.57,209.63 97.32,208.96 98.06,208.28 98.81,207.61 99.55,206.94 100.29,206.26 101.04,205.59 101.78,204.92 102.53,204.24 103.27,203.57 104.01,202.90 104.76,202.22 105.50,201.55 106.24,200.88 106.99,200.20 107.73,199.53 108.48,198.86 109.22,198.20 109.96,197.54 110.71,196.89 111.45,196.25 112.19,195.62 112.94,195.00 113.68,194.38 114.43,193.78 115.17,193.18 115.91,192.59 116.66,192.01 117.40,191.43 118.14,190.87 118.89,190.31 119.63,189.76 120.38,189.22 121.12,188.69 121.86,188.16 122.61,187.64 123.35,187.14 124.09,186.63 124.84,186.14 125.58,185.66 126.32,185.18 127.07,184.72 127.81,184.26 128.56,183.80 129.30,183.36 130.04,182.93 130.79,182.50 131.53,182.08 132.27,181.67 133.02,181.27 133.76,180.87 134.51,180.49 135.25,180.11 135.99,179.74 136.74,179.38 137.48,179.01 138.23,178.65 138.97,178.28 139.71,177.92 140.46,177.55 141.20,177.19 141.94,176.82 142.69,176.45 143.43,176.09 144.18,175.72 144.92,175.36 145.66,174.99 146.41,174.63 147.15,174.26 147.89,173.90 148.64,173.53 149.38,173.17 150.12,172.80 150.87,172.44 151.61,172.07 152.36,171.71 153.10,171.34 153.84,170.98 154.59,170.61 155.33,170.24 156.07,169.88 156.82,169.51 157.56,169.15 158.31,168.78 159.05,168.42 159.79,168.05 160.54,167.69 161.28,167.32 162.02,166.96 162.77,166.59 163.51,166.23 164.26,165.86 165.00,165.50" fill="none" stroke="#55d455" stroke-width="1.35" stroke-linejoin="round" />
<polyline points="46.00,232.60 46.74,232.60 47.49,232.60 48.23,232.60 48.97,232.60 49.72,232.60 50.46,232.60 51.21,232.60 51.95,232.60 52.69,232.60 53.44,232.60 54.18,232.60 54.92,232.60 55.67,232.60 56.41,232.60 57.16,232.60 57.90,232.60 58.64,232.60 59.39,232.60 60.13,232.60 60.88,232.60 61.62,232.60 62.36,232.59 63.11,232.59 63.85,232.59 64.59,232.58 65.34,232.57 66.08,232.55 66.83,232.52 67.57,232.47 68.31,232.41 69.06,232.30 69.80,232.15 70.54,231.94 71.29,231.66 72.03,231.30 72.78,230.86 73.52,230.36 74.26,229.81 75.01,229.23 75.75,228.61 76.49,227.98 77.24,227.34 77.98,226.68 78.72,226.03 79.47,225.36 80.21,224.70 80.96,224.04 81.70,223.37 82.44,222.71 83.19,222.04 83.93,221.38 84.68,220.71 85.42,220.04 86.16,219.38 86.91,218.71 87.65,218.05 88.39,217.38 89.14,216.71 89.88,216.05 90.62,215.38 91.37,214.72 92.11,214.05 92.86,213.38 93.60,212.72 94.34,212.05 95.09,211.39 95.83,210.72 96.57,210.05 97.32,209.39 98.06,208.72 98.81,208.06 99.55,207.39 100.29,206.72 101.04,206.06 101.78,205.39 102.53,204.72 103.27,204.06 104.01,203.39 104.76,202.73 105.50,202.06 106.24,201.39 106.99,200.73 107.73,200.06 108.48,199.40 109.22,198.73 109.96,198.06 110.71,197.40 111.45,196.73 112.19,196.07 112.94,195.40 113.68,194.73 114.43,194.07 115.17,193.40 115.91,192.74 116.66,192.07 117.40,191.40 118.14,190.74 118.89,190.07 119.63,189.40 120.38,188.74 121.12,188.07 121.86,187.41 122.61,186.74 123.35,186.07 124.09,185.41 124.84,184.74 125.58,184.08 126.32,183.41 127.07,182.74 127.81,182.08 128.56,181.41 129.30,180.75 130.04,180.08 130.79,179.41 131.53,178.75 132.27,178.08 133.02,177.41 133.76,176.75 134.51,176.08 135.25,175.42 135.99,174.75 136.74,174.08 137.48,173.42 138.23,172.75 138.97,172.09 139.71,171.42 140.46,170.75 141.20,170.09 141.94,169.42 142.69,168.76 143.43,168.09 144.18,167.42 144.92,166.76 145.66,166.09 146.41,165.43 147.15,164.76 147.89,164.09 148.64,163.43 149.38,162.76 150.12,162.09 150.87,161.43 151.61,160.76 152.36,160.10 153.10,159.43 153.84,158.76 154.59,158.10 155.33,157.43 156.07,156.77 156.82,156.10 157.56,155.43 158.31,154.77 159.05,154.10 159.79,153.44 160.54,152.77 161.28,152.10 162.02,151.44 162.77,150.77 163.51,150.10 164.26,149.44 165.00,148.77" fill="none" stroke="#bf4a48" stroke-width="1.35" stroke-linejoin="round" />
<polyline points="46.00,232.60 46.74,232.60 47.49,232.60 48.23,232.60 48.97,232.60 49.72,232.60 50.46,232.60 51.21,232.60 51.95,232.60 52.69,232.60 53.44,232.60 54.18,232.60 54.92,232.60 55.67,232.60 56.41,232.60 57.16,232.60 57.90,232.60 58.64,232.60 59.39,232.60 60.13,232.60 60.88,232.60 61.62,232.60 62.36,232.59 63.11,232.59 63.85,232.58 64.59,232.57 65.34,232.56 66.08,232.53 66.83,232.49 67.57,232.44 68.31,232.35 69.06,232.22 69.80,232.03 70.54,231.77 71.29,231.44 72.03,231.02 72.78,230.54 73.52,229.99 74.26,229.40 75.01,228.78 75.75,228.13 76.49,227.47 77.24,226.80 77.98,226.13 78.72,225.45 79.47,224.76 80.21,224.08 80.96,223.39 81.70,222.71 82.44,222.02 83.19,221.33 83.93,220.64 84.68,219.96 85.42,219.27 86.16,218.58 86.91,217.89 87.65,217.21 88.39,216.52 89.14,215.83 89.88,215.14 90.62,214.46 91.37,213.77 92.11,213.08 92.86,212.39 93.60,211.71 94.34,211.02 95.09,210.33 95.83,209.64 96.57,208.96 97.32,208.27 98.06,207.58 98.81,206.89 99.55,206.21 100.29,205.52 101.04,204.83 101.78,204.14 102.53,203.46 103.27,202.77 104.01,202.08 104.76,201.39 105.50,200.71 106.24,200.02 106.99,199.33 107.73,198.64 108.48,197.96 109.22,197.27 109.96,196.58 110.71,195.89 111.45,195.20 112.19,194.52 112.94,193.83 113.68,193.14 114.43,192.45 115.17,191.77 115.91,191.08 116.66,190.39 117.40,189.70 118.14,189.02 118.89,188.33 119.63,187.64 120.38,186.95 121.12,186.27 121.86,185.58 122.61,184.89 123.35,184.20 124.09,183.52 124.84,182.83 125.58,182.14 126.32,181.45 127.07,180.77 127.81,180.08 128.56,179.39 129.30,178.70 130.04,178.02 130.79,177.33 131.53,176.64 132.27,175.95 133.02,175.26 133.76,174.58 134.51,173.89 135.25,173.20 135.99,172.51 136.74,171.83 137.48,171.14 138.23,170.45 138.97,169.76 139.71,169.08 140.46,168.39 141.20,167.70 141.94,167.01 142.69,166.33 143.43,165.64 144.18,164.95 144.92,164.26 145.66,163.58 146.41,162.89 147.15,162.20 147.89,161.51 148.64,160.83 149.38,160.14 150.12,159.45 150.87,158.76 151.61,158.08 152.36,157.39 153.10,156.70 153.84,156.01 154.59,155.33 155.33,154.64 156.07,153.95 156.82,153.26 157.56,152.57 158.31,151.89 159.05,151.20 159.79,150.51 160.54,149.82 161.28,149.14 162.02,148.45 162.77,147.76 163.51,147.07 164.26,146.39 165.00,145.70" fill="none" stroke="#e4b060" stroke-width="1.4" stroke-linejoin="round" />
<polyline points="46.00,232.60 46.74,232.60 47.49,232.60 48.23,232.60 48.97,232.60 49.72,232.61 50.46,232.61 51.21,232.61 51.95,232.62 52.69,232.62 53.44,232.62 54.18,232.63 54.92,232.63 55.67,232.63 56.41,232.64 57.16,232.64 57.90,232.64 58.64,232.65 59.39,232.65 60.13,232.65 60.88,232.65 61.62,232.65 62.36,232.65 63.11,232.65 63.85,232.65 64.59,232.64 65.34,232.64 66.08,232.63 66.83,232.63 67.57,232.62 68.31,232.61 69.06,232.60 69.80,232.57 70.54,232.50 71.29,232.38 72.03,232.21 72.78,231.99 73.52,231.75 74.26,231.48 75.01,231.16 75.75,230.81 76.49,230.40 77.24,229.96 77.98,229.49 78.72,229.00 79.47,228.50 80.21,227.99 80.96,227.50 81.70,227.01 82.44,226.54 83.19,226.08 83.93,225.61 84.68,225.15 85.42,224.69 86.16,224.22 86.91,223.76 87.65,223.30 88.39,222.85 89.14,222.39 89.88,221.94 90.62,221.48 91.37,221.04 92.11,220.59 92.86,220.15 93.60,219.70 94.34,219.26 95.09,218.82 95.83,218.38 96.57,217.95 97.32,217.51 98.06,217.08 98.81,216.66 99.55,216.23 100.29,215.82 101.04,215.41 101.78,215.00 102.53,214.60 103.27,214.20 104.01,213.81 104.76,213.43 105.50,213.05 106.24,212.67 106.99,212.30 107.73,211.93 108.48,211.56 109.22,211.20 109.96,210.84 110.71,210.49 111.45,210.13 112.19,209.78 112.94,209.43 113.68,209.08 114.43,208.73 115.17,208.39 115.91,208.05 116.66,207.72 117.40,207.41 118.14,207.10 118.89,206.81 119.63,206.54 120.38,206.28 121.12,206.05 121.86,205.83 122.61,205.64 123.35,205.47 124.09,205.33 124.84,205.21 125.58,205.10 126.32,205.03 127.07,204.99 127.81,204.97 128.56,204.98 129.30,205.01 130.04,205.05 130.79,205.10 131.53,205.15 132.27,205.19 133.02,205.25 133.76,205.33 134.51,205.42 135.25,205.51 135.99,205.59 136.74,205.66 137.48,205.70 138.23,205.71 138.97,205.71 139.71,205.70 140.46,205.67 141.20,205.62 141.94,205.56 142.69,205.47 143.43,205.36 144.18,205.21 144.92,205.04 145.66,204.84 146.41,204.60 147.15,204.36 147.89,204.09 148.64,203.82 149.38,203.55 150.12,203.28 150.87,203.01 151.61,202.74 152.36,202.46 153.10,202.18 153.84,201.90 154.59,201.61 155.33,201.32 156.07,201.02 156.82,200.72 157.56,200.42 158.31,200.12 159.05,199.80 159.79,199.48 160.54,199.16 161.28,198.83 162.02,198.49 162.77,198.16 163.51,197.82 164.26,197.49 165.00,197.16" fill="none" stroke="#a04ad8" stroke-width="1.35" stroke-linejoin="round" />
<line x1="48.30" y1="144.50" x2="61.70" y2="144.50" stroke="#bf4a48" stroke-width="1.2" />
<text x="64.80" y="146.60" font-size="5.85" font-family="'Liberation Sans', sans-serif" text-anchor="start" fill="#1a1a1a" font-weight="bold"  stroke="#1a1a1a" stroke-width="0.15">P-NTS-0.3</text>
<line x1="48.30" y1="151.90" x2="61.70" y2="151.90" stroke="#e4b060" stroke-width="1.2" />
<text x="64.80" y="154.00" font-size="5.85" font-family="'Liberation Sans', sans-serif" text-anchor="start" fill="#1a1a1a" font-weight="bold"  stroke="#1a1a1a" stroke-width="0.15">P-NTS-0.5</text>
<line x1="48.30" y1="159.30" x2="61.70" y2="159.30" stroke="#55d455" stroke-width="1.2" />
<text x="64.80" y="161.40" font-size="5.85" font-family="'Liberation Sans', sans-serif" text-anchor="start" fill="#1a1a1a" font-weight="bold"  stroke="#1a1a1a" stroke-width="0.15">P-NTS-0.7</text>
<line x1="48.30" y1="166.70" x2="61.70" y2="166.70" stroke="#a04ad8" stroke-width="1.2" />
<text x="64.80" y="168.80" font-size="5.85" font-family="'Liberation Sans', sans-serif" text-anchor="start" fill="#1a1a1a" font-weight="bold"  stroke="#1a1a1a" stroke-width="0.15">NS-KOH</text>
<line x1="48.30" y1="174.10" x2="61.70" y2="174.10" stroke="#3a3a3a" stroke-width="1.2" />
<text x="64.80" y="176.20" font-size="5.85" font-family="'Liberation Sans', sans-serif" text-anchor="start" fill="#1a1a1a" font-weight="bold"  stroke="#1a1a1a" stroke-width="0.15">Carbon paper</text>
<rect x="220.00" y="133.00" width="145.40" height="47.60" fill="none" stroke="#777" stroke-width="0.7" />
<line x1="220.00" y1="133.00" x2="365.40" y2="133.00" stroke="#555" stroke-width="0.9" />
<line x1="218.40" y1="140.10" x2="220.00" y2="140.10" stroke="#666" stroke-width="0.6" />
<text x="217.60" y="141.70" font-size="4.4" font-family="'Liberation Sans', sans-serif" text-anchor="end" fill="#555" font-weight="normal"  stroke="#555" stroke-width="0.15">8</text>
<line x1="218.40" y1="147.70" x2="220.00" y2="147.70" stroke="#666" stroke-width="0.6" />
<text x="217.60" y="149.30" font-size="4.4" font-family="'Liberation Sans', sans-serif" text-anchor="end" fill="#555" font-weight="normal"  stroke="#555" stroke-width="0.15">0</text>
<line x1="218.40" y1="155.30" x2="220.00" y2="155.30" stroke="#666" stroke-width="0.6" />
<text x="217.60" y="156.90" font-size="4.4" font-family="'Liberation Sans', sans-serif" text-anchor="end" fill="#555" font-weight="normal"  stroke="#555" stroke-width="0.15">-8</text>
<line x1="218.40" y1="162.90" x2="220.00" y2="162.90" stroke="#666" stroke-width="0.6" />
<text x="217.60" y="164.50" font-size="4.4" font-family="'Liberation Sans', sans-serif" text-anchor="end" fill="#555" font-weight="normal"  stroke="#555" stroke-width="0.15">-16</text>
<line x1="218.40" y1="170.50" x2="220.00" y2="170.50" stroke="#666" stroke-width="0.6" />
<text x="217.60" y="172.10" font-size="4.4" font-family="'Liberation Sans', sans-serif" text-anchor="end" fill="#555" font-weight="normal"  stroke="#555" stroke-width="0.15">-24</text>
<line x1="218.40" y1="178.10" x2="220.00" y2="178.10" stroke="#666" stroke-width="0.6" />
<text x="217.60" y="179.70" font-size="4.4" font-family="'Liberation Sans', sans-serif" text-anchor="end" fill="#555" font-weight="normal"  stroke="#555" stroke-width="0.15">-32</text>
<line x1="219.80" y1="180.60" x2="219.80" y2="179.10" stroke="#666" stroke-width="0.6" />
<text x="219.80" y="186.80" font-size="4.6" font-family="'Liberation Sans', sans-serif" text-anchor="middle" fill="#555" font-weight="normal"  stroke="#555" stroke-width="0.15">-2</text>
<line x1="256.20" y1="180.60" x2="256.20" y2="179.10" stroke="#666" stroke-width="0.6" />
<text x="256.20" y="186.80" font-size="4.6" font-family="'Liberation Sans', sans-serif" text-anchor="middle" fill="#555" font-weight="normal"  stroke="#555" stroke-width="0.15">-1</text>
<line x1="292.60" y1="180.60" x2="292.60" y2="179.10" stroke="#666" stroke-width="0.6" />
<text x="292.60" y="186.80" font-size="4.6" font-family="'Liberation Sans', sans-serif" text-anchor="middle" fill="#555" font-weight="normal"  stroke="#555" stroke-width="0.15">0</text>
<line x1="329.00" y1="180.60" x2="329.00" y2="179.10" stroke="#666" stroke-width="0.6" />
<text x="329.00" y="186.80" font-size="4.6" font-family="'Liberation Sans', sans-serif" text-anchor="middle" fill="#555" font-weight="normal"  stroke="#555" stroke-width="0.15">1</text>
<line x1="365.40" y1="180.60" x2="365.40" y2="179.10" stroke="#666" stroke-width="0.6" />
<text x="365.40" y="186.80" font-size="4.6" font-family="'Liberation Sans', sans-serif" text-anchor="middle" fill="#555" font-weight="normal"  stroke="#555" stroke-width="0.15">2</text>
<line x1="238.00" y1="180.60" x2="238.00" y2="179.60" stroke="#666" stroke-width="0.5" />
<line x1="274.40" y1="180.60" x2="274.40" y2="179.60" stroke="#666" stroke-width="0.5" />
<line x1="310.80" y1="180.60" x2="310.80" y2="179.60" stroke="#666" stroke-width="0.5" />
<line x1="347.20" y1="180.60" x2="347.20" y2="179.60" stroke="#666" stroke-width="0.5" />
<line x1="220.00" y1="147.70" x2="365.40" y2="147.70" stroke="#6ab295" stroke-width="0.7" />
<text x="209.80" y="156.40" font-size="5.5" font-family="'Liberation Sans', sans-serif" text-anchor="middle" fill="#555" font-weight="normal" transform="rotate(-90 209.8 156.4)"  stroke="#555" stroke-width="0.15">Density of states</text>
<text x="362.80" y="140.00" font-size="4.75" font-family="'Liberation Sans', sans-serif" text-anchor="end" fill="#444" font-weight="normal"  stroke="#444" stroke-width="0.15">P-Ni(OH)<tspan font-size="3.4" dy="1">2</tspan><tspan dy="-1"> nanosheets</tspan></text>
<polyline points="219.80,147.70 222.35,147.22 225.26,143.90 227.81,140.10 229.99,146.75 231.45,147.22 234.36,138.67 235.82,140.10 239.82,136.11 241.28,136.77 242.19,147.70 247.10,147.70 248.92,145.13 259.84,145.13 261.30,146.46 281.68,146.75 284.23,144.66 286.05,145.42 287.87,147.70 365.40,147.70" fill="none" stroke="#4a9e78" stroke-width="0.85" stroke-linejoin="round" />
<polyline points="256.20,147.70 259.84,148.08 264.21,150.07 267.85,153.97 270.76,149.41 276.22,148.74 278.04,149.22 279.31,167.27 280.59,166.22 281.32,149.22 285.32,148.08 288.23,147.70" fill="none" stroke="#86c4a6" stroke-width="0.85" stroke-linejoin="round" />
<polyline points="331.91,147.70 335.55,150.07 338.10,151.78 339.92,150.83 343.20,149.12 350.84,149.22 359.21,149.69 361.76,148.17 365.40,147.70" fill="none" stroke="#86c4a6" stroke-width="0.85" stroke-linejoin="round" />
<rect x="220.00" y="194.80" width="145.40" height="47.40" fill="none" stroke="#777" stroke-width="0.7" />
<line x1="220.00" y1="194.80" x2="365.40" y2="194.80" stroke="#555" stroke-width="0.9" />
<line x1="218.40" y1="194.40" x2="220.00" y2="194.40" stroke="#666" stroke-width="0.6" />
<text x="217.60" y="196.00" font-size="4.4" font-family="'Liberation Sans', sans-serif" text-anchor="end" fill="#555" font-weight="normal"  stroke="#555" stroke-width="0.15">4</text>
<line x1="218.40" y1="203.60" x2="220.00" y2="203.60" stroke="#666" stroke-width="0.6" />
<text x="217.60" y="205.20" font-size="4.4" font-family="'Liberation Sans', sans-serif" text-anchor="end" fill="#555" font-weight="normal"  stroke="#555" stroke-width="0.15">0</text>
<line x1="218.40" y1="212.80" x2="220.00" y2="212.80" stroke="#666" stroke-width="0.6" />
<text x="217.60" y="214.40" font-size="4.4" font-family="'Liberation Sans', sans-serif" text-anchor="end" fill="#555" font-weight="normal"  stroke="#555" stroke-width="0.15">-4</text>
<line x1="218.40" y1="222.00" x2="220.00" y2="222.00" stroke="#666" stroke-width="0.6" />
<text x="217.60" y="223.60" font-size="4.4" font-family="'Liberation Sans', sans-serif" text-anchor="end" fill="#555" font-weight="normal"  stroke="#555" stroke-width="0.15">-8</text>
<line x1="218.40" y1="231.20" x2="220.00" y2="231.20" stroke="#666" stroke-width="0.6" />
<text x="217.60" y="232.80" font-size="4.4" font-family="'Liberation Sans', sans-serif" text-anchor="end" fill="#555" font-weight="normal"  stroke="#555" stroke-width="0.15">-12</text>
<line x1="218.40" y1="240.40" x2="220.00" y2="240.40" stroke="#666" stroke-width="0.6" />
<text x="217.60" y="242.00" font-size="4.4" font-family="'Liberation Sans', sans-serif" text-anchor="end" fill="#555" font-weight="normal"  stroke="#555" stroke-width="0.15">-16</text>
<line x1="219.80" y1="242.20" x2="219.80" y2="240.70" stroke="#666" stroke-width="0.6" />
<text x="219.80" y="248.40" font-size="4.6" font-family="'Liberation Sans', sans-serif" text-anchor="middle" fill="#555" font-weight="normal"  stroke="#555" stroke-width="0.15">-2</text>
<line x1="256.20" y1="242.20" x2="256.20" y2="240.70" stroke="#666" stroke-width="0.6" />
<text x="256.20" y="248.40" font-size="4.6" font-family="'Liberation Sans', sans-serif" text-anchor="middle" fill="#555" font-weight="normal"  stroke="#555" stroke-width="0.15">-1</text>
<line x1="292.60" y1="242.20" x2="292.60" y2="240.70" stroke="#666" stroke-width="0.6" />
<text x="292.60" y="248.40" font-size="4.6" font-family="'Liberation Sans', sans-serif" text-anchor="middle" fill="#555" font-weight="normal"  stroke="#555" stroke-width="0.15">0</text>
<line x1="329.00" y1="242.20" x2="329.00" y2="240.70" stroke="#666" stroke-width="0.6" />
<text x="329.00" y="248.40" font-size="4.6" font-family="'Liberation Sans', sans-serif" text-anchor="middle" fill="#555" font-weight="normal"  stroke="#555" stroke-width="0.15">1</text>
<line x1="365.40" y1="242.20" x2="365.40" y2="240.70" stroke="#666" stroke-width="0.6" />
<text x="365.40" y="248.40" font-size="4.6" font-family="'Liberation Sans', sans-serif" text-anchor="middle" fill="#555" font-weight="normal"  stroke="#555" stroke-width="0.15">2</text>
<line x1="238.00" y1="242.20" x2="238.00" y2="241.20" stroke="#666" stroke-width="0.5" />
<line x1="274.40" y1="242.20" x2="274.40" y2="241.20" stroke="#666" stroke-width="0.5" />
<line x1="310.80" y1="242.20" x2="310.80" y2="241.20" stroke="#666" stroke-width="0.5" />
<line x1="347.20" y1="242.20" x2="347.20" y2="241.20" stroke="#666" stroke-width="0.5" />
<text x="209.60" y="217.70" font-size="5.5" font-family="'Liberation Sans', sans-serif" text-anchor="middle" fill="#555" font-weight="normal" transform="rotate(-90 209.6 217.7)"  stroke="#555" stroke-width="0.15">Density of states</text>
<text x="294.00" y="255.20" font-size="5.6" font-family="'Liberation Sans', sans-serif" text-anchor="middle" fill="#555" font-weight="normal"  stroke="#555" stroke-width="0.15">Energy (eV)</text>
<text x="364.60" y="200.60" font-size="4.75" font-family="'Liberation Sans', sans-serif" text-anchor="end" fill="#444" font-weight="normal"  stroke="#444" stroke-width="0.15">M-Ni(OH)<tspan font-size="3.4" dy="1">2</tspan><tspan dy="-1"> nanosheets</tspan></text>
<polyline points="219.80,203.14 222.35,202.68 227.08,200.15 238.00,199.92 240.91,201.53 245.28,201.76 279.86,201.53 280.95,199.00 283.14,201.76 292.60,202.68 298.06,201.99 329.00,201.53 347.20,201.76 365.40,201.76" fill="none" stroke="#eba0a0" stroke-width="0.8" stroke-linejoin="round" />
<polyline points="219.80,203.60 222.35,207.05 226.35,217.40 228.17,223.38 229.63,212.80 231.08,203.60 232.90,205.90 235.09,217.40 237.27,230.05 238.18,232.58 239.46,219.70 241.64,203.60 274.40,203.60 288.96,203.60 293.33,206.36 295.51,215.10 296.60,217.63 298.06,207.05 301.70,206.36 305.34,206.59 306.43,208.43 307.89,206.59 314.44,205.90 329.00,205.90 330.82,208.89 332.64,206.36 343.56,204.98 365.40,204.29" fill="none" stroke="#e48c8c" stroke-width="0.8" stroke-linejoin="round" />
<rect x="290.50" y="133.00" width="4.20" height="109.40" fill="#92c8e0" stroke="none" stroke-width="0.8" />
<text x="292.60" y="186.80" font-size="4.6" font-family="'Liberation Sans', sans-serif" text-anchor="middle" fill="#444" font-weight="normal"  stroke="#444" stroke-width="0.15">0</text>
<text x="292.60" y="248.40" font-size="4.6" font-family="'Liberation Sans', sans-serif" text-anchor="middle" fill="#444" font-weight="normal"  stroke="#444" stroke-width="0.15">0</text>
<text x="188.80" y="141.60" font-size="13.8" font-family="'Liberation Serif', serif" text-anchor="start" fill="#111" font-weight="normal" stroke="#111" stroke-width="0.3">(e)</text>
<rect x="395.60" y="135.50" width="148.90" height="110.50" fill="none" stroke="#666" stroke-width="0.8" />
<line x1="393.60" y1="246.00" x2="395.60" y2="246.00" stroke="#444" stroke-width="0.7" />
<text x="392.80" y="247.80" font-size="5.1" font-family="'Liberation Sans', sans-serif" text-anchor="end" fill="#555" font-weight="normal" stroke="none">0</text>
<line x1="393.60" y1="232.75" x2="395.60" y2="232.75" stroke="#444" stroke-width="0.7" />
<text x="392.80" y="234.55" font-size="5.1" font-family="'Liberation Sans', sans-serif" text-anchor="end" fill="#555" font-weight="normal" stroke="none">5</text>
<line x1="393.60" y1="219.50" x2="395.60" y2="219.50" stroke="#444" stroke-width="0.7" />
<text x="392.80" y="221.30" font-size="5.1" font-family="'Liberation Sans', sans-serif" text-anchor="end" fill="#555" font-weight="normal" stroke="none">10</text>
<line x1="393.60" y1="206.25" x2="395.60" y2="206.25" stroke="#444" stroke-width="0.7" />
<text x="392.80" y="208.05" font-size="5.1" font-family="'Liberation Sans', sans-serif" text-anchor="end" fill="#555" font-weight="normal" stroke="none">15</text>
<line x1="393.60" y1="193.00" x2="395.60" y2="193.00" stroke="#444" stroke-width="0.7" />
<text x="392.80" y="194.80" font-size="5.1" font-family="'Liberation Sans', sans-serif" text-anchor="end" fill="#555" font-weight="normal" stroke="none">20</text>
<line x1="393.60" y1="179.75" x2="395.60" y2="179.75" stroke="#444" stroke-width="0.7" />
<text x="392.80" y="181.55" font-size="5.1" font-family="'Liberation Sans', sans-serif" text-anchor="end" fill="#555" font-weight="normal" stroke="none">25</text>
<line x1="393.60" y1="166.50" x2="395.60" y2="166.50" stroke="#444" stroke-width="0.7" />
<text x="392.80" y="168.30" font-size="5.1" font-family="'Liberation Sans', sans-serif" text-anchor="end" fill="#555" font-weight="normal" stroke="none">30</text>
<line x1="393.60" y1="153.25" x2="395.60" y2="153.25" stroke="#444" stroke-width="0.7" />
<text x="392.80" y="155.05" font-size="5.1" font-family="'Liberation Sans', sans-serif" text-anchor="end" fill="#555" font-weight="normal" stroke="none">35</text>
<line x1="393.60" y1="140.00" x2="395.60" y2="140.00" stroke="#444" stroke-width="0.7" />
<text x="392.80" y="141.80" font-size="5.1" font-family="'Liberation Sans', sans-serif" text-anchor="end" fill="#555" font-weight="normal" stroke="none">40</text>
<text x="383.80" y="185.50" font-size="6.3" font-family="'Liberation Sans', sans-serif" text-anchor="middle" fill="#555" font-weight="normal" transform="rotate(-90 383.8 185.5)" stroke="none">Peak current density (mAcm<tspan font-size="4.2" dy="-2.4">-2</tspan><tspan dy="2.4">)</tspan></text>
<rect x="404.90" y="240.17" width="19.20" height="5.83" fill="#24877f" stroke="none" stroke-width="0.8" />
<rect x="442.50" y="227.72" width="18.70" height="18.28" fill="#24877f" stroke="none" stroke-width="0.8" />
<rect x="479.90" y="224.80" width="18.70" height="21.20" fill="#24877f" stroke="none" stroke-width="0.8" />
<rect x="517.20" y="150.60" width="18.70" height="95.40" fill="#24877f" stroke="none" stroke-width="0.8" />
<text x="417.50" y="236.50" font-size="5.0" font-family="'Liberation Sans', sans-serif" text-anchor="middle" fill="#f39052" font-weight="normal" stroke="none">Pristine Ni(OH)<tspan font-size="3.5" dy="1">2</tspan></text>
<text x="451.50" y="223.50" font-size="5.0" font-family="'Liberation Sans', sans-serif" text-anchor="middle" fill="#f39052" font-weight="normal" stroke="none">Pt/C</text>
<text x="487.80" y="220.50" font-size="5.0" font-family="'Liberation Sans', sans-serif" text-anchor="middle" fill="#f39052" font-weight="normal" stroke="none">Ni</text>
<text x="525.50" y="145.50" font-size="5.0" font-family="'Liberation Sans', sans-serif" text-anchor="middle" fill="#f39052" font-weight="normal" stroke="none">Metallic Ni(OH)<tspan font-size="3.5" dy="1">2</tspan></text>
<text x="370.40" y="141.50" font-size="13.6" font-family="'Liberation Serif', serif" text-anchor="start" fill="#111" font-weight="normal" stroke="#111" stroke-width="0.3">(f)</text>
</svg>
</body></html>
